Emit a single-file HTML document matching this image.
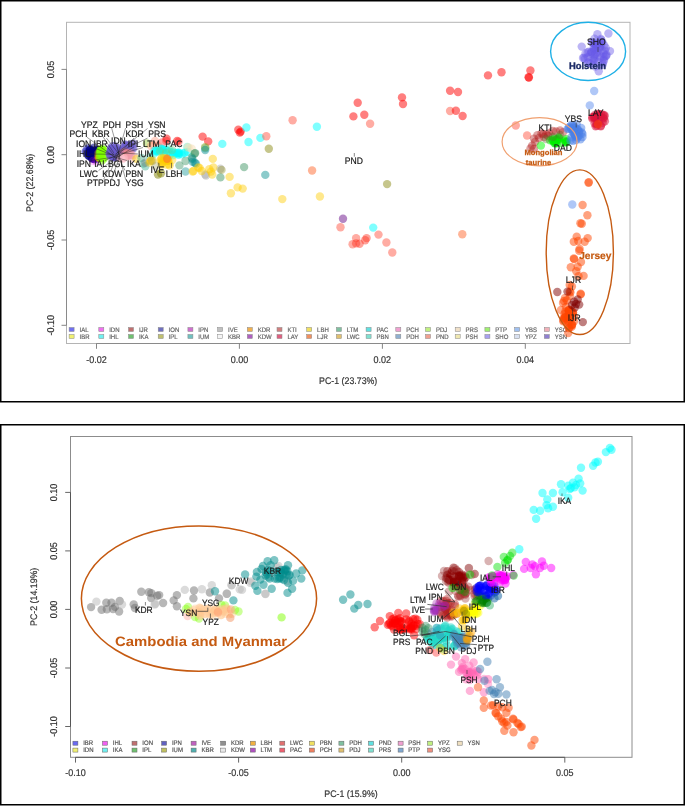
<!DOCTYPE html>
<html><head><meta charset="utf-8"><style>
html,body{margin:0;padding:0;background:#fff;}
svg{display:block;font-family:"Liberation Sans",sans-serif;text-rendering:geometricPrecision;}
.wrap{will-change:transform;width:685px;height:806px;}
</style></head><body>
<div class="wrap">
<svg width="685" height="806" viewBox="0 0 685 806">
<rect width="685" height="806" fill="#fff"/>
<rect x="0.75" y="0.75" width="683.5" height="401" fill="none" stroke="#000" stroke-width="1.5"/>
<rect x="0.75" y="424.75" width="683.5" height="380" fill="none" stroke="#000" stroke-width="1.5"/>
<rect x="66.5" y="22.3" width="563.5" height="321.2" fill="none" stroke="#b4b4b4" stroke-width="1"/>
<line x1="66.5" y1="69.4" x2="66.5" y2="325.3" stroke="#8a8a8a" stroke-width="1"/>
<line x1="96.5" y1="343.5" x2="525.3" y2="343.5" stroke="#8a8a8a" stroke-width="1"/>
<line x1="61.5" y1="69.4" x2="66.5" y2="69.4" stroke="#777" stroke-width="0.9"/>
<text x="0" y="0" font-size="9" text-anchor="middle" fill="#333" stroke="#333" stroke-width="0.18" transform="translate(54.30 69.40) rotate(-90) scale(1 1.09)">0.05</text>
<line x1="61.5" y1="154.7" x2="66.5" y2="154.7" stroke="#777" stroke-width="0.9"/>
<text x="0" y="0" font-size="9" text-anchor="middle" fill="#333" stroke="#333" stroke-width="0.18" transform="translate(54.30 154.70) rotate(-90) scale(1 1.09)">0.00</text>
<line x1="61.5" y1="240.0" x2="66.5" y2="240.0" stroke="#777" stroke-width="0.9"/>
<text x="0" y="0" font-size="9" text-anchor="middle" fill="#333" stroke="#333" stroke-width="0.18" transform="translate(54.30 240.00) rotate(-90) scale(1 1.09)">-0.05</text>
<line x1="61.5" y1="325.3" x2="66.5" y2="325.3" stroke="#777" stroke-width="0.9"/>
<text x="0" y="0" font-size="9" text-anchor="middle" fill="#333" stroke="#333" stroke-width="0.18" transform="translate(54.30 325.30) rotate(-90) scale(1 1.09)">-0.10</text>
<line x1="96.5" y1="343.5" x2="96.5" y2="348.8" stroke="#777" stroke-width="0.9"/>
<text x="0" y="0" font-size="9" text-anchor="middle" fill="#333" stroke="#333" stroke-width="0.18" transform="translate(96.50 363.20) scale(1 1.09)">-0.02</text>
<line x1="239.4" y1="343.5" x2="239.4" y2="348.8" stroke="#777" stroke-width="0.9"/>
<text x="0" y="0" font-size="9" text-anchor="middle" fill="#333" stroke="#333" stroke-width="0.18" transform="translate(239.43 363.20) scale(1 1.09)">0.00</text>
<line x1="382.4" y1="343.5" x2="382.4" y2="348.8" stroke="#777" stroke-width="0.9"/>
<text x="0" y="0" font-size="9" text-anchor="middle" fill="#333" stroke="#333" stroke-width="0.18" transform="translate(382.36 363.20) scale(1 1.09)">0.02</text>
<line x1="525.3" y1="343.5" x2="525.3" y2="348.8" stroke="#777" stroke-width="0.9"/>
<text x="0" y="0" font-size="9" text-anchor="middle" fill="#333" stroke="#333" stroke-width="0.18" transform="translate(525.29 363.20) scale(1 1.09)">0.04</text>
<text x="0" y="0" font-size="8.8" text-anchor="middle" fill="#333" stroke="#333" stroke-width="0.18" transform="translate(348.20 384.10) scale(1 1.09)">PC-1 (23.73%)</text>
<text x="0" y="0" font-size="8.8" text-anchor="middle" fill="#333" stroke="#333" stroke-width="0.18" transform="translate(33.20 182.80) rotate(-90) scale(1 1.09)">PC-2 (22.68%)</text>
<rect x="69.1" y="327.5" width="5" height="4" fill="#7070f0" stroke="#888" stroke-width="0.5"/>
<text x="0" y="0" font-size="6" text-anchor="start" fill="#666" stroke="#666" stroke-width="0.18" transform="translate(79.50 331.50) scale(1 1.09)">IAL</text>
<rect x="69.1" y="334.5" width="5" height="4" fill="#f0f070" stroke="#888" stroke-width="0.5"/>
<text x="0" y="0" font-size="6" text-anchor="start" fill="#666" stroke="#666" stroke-width="0.18" transform="translate(79.50 338.50) scale(1 1.09)">IBR</text>
<rect x="98.8" y="327.5" width="5" height="4" fill="#f070f0" stroke="#888" stroke-width="0.5"/>
<text x="0" y="0" font-size="6" text-anchor="start" fill="#666" stroke="#666" stroke-width="0.18" transform="translate(109.20 331.50) scale(1 1.09)">IDN</text>
<rect x="98.8" y="334.5" width="5" height="4" fill="#70f0f0" stroke="#888" stroke-width="0.5"/>
<text x="0" y="0" font-size="6" text-anchor="start" fill="#666" stroke="#666" stroke-width="0.18" transform="translate(109.20 338.50) scale(1 1.09)">IHL</text>
<rect x="128.5" y="327.5" width="5" height="4" fill="#c07070" stroke="#888" stroke-width="0.5"/>
<text x="0" y="0" font-size="6" text-anchor="start" fill="#666" stroke="#666" stroke-width="0.18" transform="translate(138.90 331.50) scale(1 1.09)">IJR</text>
<rect x="128.5" y="334.5" width="5" height="4" fill="#70c070" stroke="#888" stroke-width="0.5"/>
<text x="0" y="0" font-size="6" text-anchor="start" fill="#666" stroke="#666" stroke-width="0.18" transform="translate(138.90 338.50) scale(1 1.09)">IKA</text>
<rect x="158.2" y="327.5" width="5" height="4" fill="#7070c0" stroke="#888" stroke-width="0.5"/>
<text x="0" y="0" font-size="6" text-anchor="start" fill="#666" stroke="#666" stroke-width="0.18" transform="translate(168.60 331.50) scale(1 1.09)">ION</text>
<rect x="158.2" y="334.5" width="5" height="4" fill="#c0c070" stroke="#888" stroke-width="0.5"/>
<text x="0" y="0" font-size="6" text-anchor="start" fill="#666" stroke="#666" stroke-width="0.18" transform="translate(168.60 338.50) scale(1 1.09)">IPL</text>
<rect x="187.9" y="327.5" width="5" height="4" fill="#d070d0" stroke="#888" stroke-width="0.5"/>
<text x="0" y="0" font-size="6" text-anchor="start" fill="#666" stroke="#666" stroke-width="0.18" transform="translate(198.30 331.50) scale(1 1.09)">IPN</text>
<rect x="187.9" y="334.5" width="5" height="4" fill="#70c0c0" stroke="#888" stroke-width="0.5"/>
<text x="0" y="0" font-size="6" text-anchor="start" fill="#666" stroke="#666" stroke-width="0.18" transform="translate(198.30 338.50) scale(1 1.09)">IUM</text>
<rect x="217.6" y="327.5" width="5" height="4" fill="#c0c0c0" stroke="#888" stroke-width="0.5"/>
<text x="0" y="0" font-size="6" text-anchor="start" fill="#666" stroke="#666" stroke-width="0.18" transform="translate(228.00 331.50) scale(1 1.09)">IVE</text>
<rect x="217.6" y="334.5" width="5" height="4" fill="#f4f4f4" stroke="#888" stroke-width="0.5"/>
<text x="0" y="0" font-size="6" text-anchor="start" fill="#666" stroke="#666" stroke-width="0.18" transform="translate(228.00 338.50) scale(1 1.09)">KBR</text>
<rect x="247.3" y="327.5" width="5" height="4" fill="#f0b050" stroke="#888" stroke-width="0.5"/>
<text x="0" y="0" font-size="6" text-anchor="start" fill="#666" stroke="#666" stroke-width="0.18" transform="translate(257.70 331.50) scale(1 1.09)">KDR</text>
<rect x="247.3" y="334.5" width="5" height="4" fill="#b060c0" stroke="#888" stroke-width="0.5"/>
<text x="0" y="0" font-size="6" text-anchor="start" fill="#666" stroke="#666" stroke-width="0.18" transform="translate(257.70 338.50) scale(1 1.09)">KDW</text>
<rect x="277.0" y="327.5" width="5" height="4" fill="#d08080" stroke="#888" stroke-width="0.5"/>
<text x="0" y="0" font-size="6" text-anchor="start" fill="#666" stroke="#666" stroke-width="0.18" transform="translate(287.40 331.50) scale(1 1.09)">KTI</text>
<rect x="277.0" y="334.5" width="5" height="4" fill="#e06080" stroke="#888" stroke-width="0.5"/>
<text x="0" y="0" font-size="6" text-anchor="start" fill="#666" stroke="#666" stroke-width="0.18" transform="translate(287.40 338.50) scale(1 1.09)">LAY</text>
<rect x="306.7" y="327.5" width="5" height="4" fill="#f0e060" stroke="#888" stroke-width="0.5"/>
<text x="0" y="0" font-size="6" text-anchor="start" fill="#666" stroke="#666" stroke-width="0.18" transform="translate(317.10 331.50) scale(1 1.09)">LBH</text>
<rect x="306.7" y="334.5" width="5" height="4" fill="#f09060" stroke="#888" stroke-width="0.5"/>
<text x="0" y="0" font-size="6" text-anchor="start" fill="#666" stroke="#666" stroke-width="0.18" transform="translate(317.10 338.50) scale(1 1.09)">LJR</text>
<rect x="336.4" y="327.5" width="5" height="4" fill="#80c0a0" stroke="#888" stroke-width="0.5"/>
<text x="0" y="0" font-size="6" text-anchor="start" fill="#666" stroke="#666" stroke-width="0.18" transform="translate(346.80 331.50) scale(1 1.09)">LTM</text>
<rect x="336.4" y="334.5" width="5" height="4" fill="#e0c070" stroke="#888" stroke-width="0.5"/>
<text x="0" y="0" font-size="6" text-anchor="start" fill="#666" stroke="#666" stroke-width="0.18" transform="translate(346.80 338.50) scale(1 1.09)">LWC</text>
<rect x="366.1" y="327.5" width="5" height="4" fill="#60e0e0" stroke="#888" stroke-width="0.5"/>
<text x="0" y="0" font-size="6" text-anchor="start" fill="#666" stroke="#666" stroke-width="0.18" transform="translate(376.50 331.50) scale(1 1.09)">PAC</text>
<rect x="366.1" y="334.5" width="5" height="4" fill="#80e0d0" stroke="#888" stroke-width="0.5"/>
<text x="0" y="0" font-size="6" text-anchor="start" fill="#666" stroke="#666" stroke-width="0.18" transform="translate(376.50 338.50) scale(1 1.09)">PBN</text>
<rect x="395.8" y="327.5" width="5" height="4" fill="#f0a0d0" stroke="#888" stroke-width="0.5"/>
<text x="0" y="0" font-size="6" text-anchor="start" fill="#666" stroke="#666" stroke-width="0.18" transform="translate(406.20 331.50) scale(1 1.09)">PCH</text>
<rect x="395.8" y="334.5" width="5" height="4" fill="#90b0d0" stroke="#888" stroke-width="0.5"/>
<text x="0" y="0" font-size="6" text-anchor="start" fill="#666" stroke="#666" stroke-width="0.18" transform="translate(406.20 338.50) scale(1 1.09)">PDH</text>
<rect x="425.5" y="327.5" width="5" height="4" fill="#c0f080" stroke="#888" stroke-width="0.5"/>
<text x="0" y="0" font-size="6" text-anchor="start" fill="#666" stroke="#666" stroke-width="0.18" transform="translate(435.90 331.50) scale(1 1.09)">PDJ</text>
<rect x="425.5" y="334.5" width="5" height="4" fill="#f0a090" stroke="#888" stroke-width="0.5"/>
<text x="0" y="0" font-size="6" text-anchor="start" fill="#666" stroke="#666" stroke-width="0.18" transform="translate(435.90 338.50) scale(1 1.09)">PND</text>
<rect x="455.2" y="327.5" width="5" height="4" fill="#f0e0c8" stroke="#888" stroke-width="0.5"/>
<text x="0" y="0" font-size="6" text-anchor="start" fill="#666" stroke="#666" stroke-width="0.18" transform="translate(465.60 331.50) scale(1 1.09)">PRS</text>
<rect x="455.2" y="334.5" width="5" height="4" fill="#f0e8b0" stroke="#888" stroke-width="0.5"/>
<text x="0" y="0" font-size="6" text-anchor="start" fill="#666" stroke="#666" stroke-width="0.18" transform="translate(465.60 338.50) scale(1 1.09)">PSH</text>
<rect x="484.9" y="327.5" width="5" height="4" fill="#a0f070" stroke="#888" stroke-width="0.5"/>
<text x="0" y="0" font-size="6" text-anchor="start" fill="#666" stroke="#666" stroke-width="0.18" transform="translate(495.30 331.50) scale(1 1.09)">PTP</text>
<rect x="484.9" y="334.5" width="5" height="4" fill="#a8a0f0" stroke="#888" stroke-width="0.5"/>
<text x="0" y="0" font-size="6" text-anchor="start" fill="#666" stroke="#666" stroke-width="0.18" transform="translate(495.30 338.50) scale(1 1.09)">SHO</text>
<rect x="514.6" y="327.5" width="5" height="4" fill="#a0c0f0" stroke="#888" stroke-width="0.5"/>
<text x="0" y="0" font-size="6" text-anchor="start" fill="#666" stroke="#666" stroke-width="0.18" transform="translate(525.00 331.50) scale(1 1.09)">YBS</text>
<rect x="514.6" y="334.5" width="5" height="4" fill="#d8e0f0" stroke="#888" stroke-width="0.5"/>
<text x="0" y="0" font-size="6" text-anchor="start" fill="#666" stroke="#666" stroke-width="0.18" transform="translate(525.00 338.50) scale(1 1.09)">YPZ</text>
<rect x="544.3" y="327.5" width="5" height="4" fill="#f0b0b8" stroke="#888" stroke-width="0.5"/>
<text x="0" y="0" font-size="6" text-anchor="start" fill="#666" stroke="#666" stroke-width="0.18" transform="translate(554.70 331.50) scale(1 1.09)">YSG</text>
<rect x="544.3" y="334.5" width="5" height="4" fill="#9080d0" stroke="#888" stroke-width="0.5"/>
<text x="0" y="0" font-size="6" text-anchor="start" fill="#666" stroke="#666" stroke-width="0.18" transform="translate(554.70 338.50) scale(1 1.09)">YSN</text>
<circle cx="87.1" cy="148.9" r="4.2" fill="#4848c8" fill-opacity="0.5"/>
<circle cx="88.8" cy="148.2" r="4.2" fill="#4848c8" fill-opacity="0.5"/>
<circle cx="88.2" cy="150.8" r="4.2" fill="#4848c8" fill-opacity="0.5"/>
<circle cx="85.8" cy="152.1" r="4.2" fill="#4848c8" fill-opacity="0.5"/>
<circle cx="85.7" cy="151.4" r="4.2" fill="#4848c8" fill-opacity="0.5"/>
<circle cx="87.6" cy="154.9" r="4.2" fill="#4848c8" fill-opacity="0.5"/>
<circle cx="89.7" cy="149.9" r="4.2" fill="#000080" fill-opacity="0.55"/>
<circle cx="94.8" cy="159.3" r="4.2" fill="#000080" fill-opacity="0.55"/>
<circle cx="94.3" cy="152.2" r="4.2" fill="#000080" fill-opacity="0.55"/>
<circle cx="97.1" cy="150.8" r="4.2" fill="#000080" fill-opacity="0.55"/>
<circle cx="91.6" cy="157.6" r="4.2" fill="#000080" fill-opacity="0.55"/>
<circle cx="90.3" cy="154.6" r="4.2" fill="#000080" fill-opacity="0.55"/>
<circle cx="94.9" cy="151.8" r="4.2" fill="#000080" fill-opacity="0.55"/>
<circle cx="94.0" cy="147.8" r="4.2" fill="#000080" fill-opacity="0.55"/>
<circle cx="95.3" cy="152.6" r="4.2" fill="#000080" fill-opacity="0.55"/>
<circle cx="91.6" cy="154.6" r="4.2" fill="#000080" fill-opacity="0.55"/>
<circle cx="93.0" cy="150.9" r="4.2" fill="#000080" fill-opacity="0.55"/>
<circle cx="96.4" cy="156.1" r="4.2" fill="#000080" fill-opacity="0.55"/>
<circle cx="90.9" cy="154.5" r="4.2" fill="#000080" fill-opacity="0.55"/>
<circle cx="93.8" cy="158.4" r="4.2" fill="#000080" fill-opacity="0.55"/>
<circle cx="95.8" cy="150.7" r="4.2" fill="#000080" fill-opacity="0.55"/>
<circle cx="92.7" cy="156.8" r="4.2" fill="#000080" fill-opacity="0.55"/>
<circle cx="90.0" cy="153.4" r="4.2" fill="#000080" fill-opacity="0.55"/>
<circle cx="88.9" cy="155.7" r="4.2" fill="#000080" fill-opacity="0.55"/>
<circle cx="96.1" cy="154.4" r="4.2" fill="#000080" fill-opacity="0.55"/>
<circle cx="97.3" cy="151.1" r="4.2" fill="#000080" fill-opacity="0.55"/>
<circle cx="95.5" cy="154.7" r="4.2" fill="#000080" fill-opacity="0.55"/>
<circle cx="94.3" cy="152.9" r="4.2" fill="#000080" fill-opacity="0.55"/>
<circle cx="93.2" cy="155.6" r="4.2" fill="#000080" fill-opacity="0.55"/>
<circle cx="89.1" cy="156.1" r="4.2" fill="#000080" fill-opacity="0.55"/>
<circle cx="96.7" cy="150.7" r="4.2" fill="#000080" fill-opacity="0.55"/>
<circle cx="92.4" cy="155.7" r="4.2" fill="#000080" fill-opacity="0.55"/>
<circle cx="88.7" cy="153.0" r="4.2" fill="#000080" fill-opacity="0.55"/>
<circle cx="89.8" cy="150.2" r="4.2" fill="#000080" fill-opacity="0.55"/>
<circle cx="92.4" cy="158.3" r="4.2" fill="#000080" fill-opacity="0.55"/>
<circle cx="89.3" cy="152.8" r="4.2" fill="#000080" fill-opacity="0.55"/>
<circle cx="94.0" cy="158.5" r="4.2" fill="#000080" fill-opacity="0.55"/>
<circle cx="96.7" cy="158.2" r="4.2" fill="#000080" fill-opacity="0.55"/>
<circle cx="91.3" cy="152.4" r="4.2" fill="#000080" fill-opacity="0.55"/>
<circle cx="92.1" cy="158.5" r="4.2" fill="#000080" fill-opacity="0.55"/>
<circle cx="90.3" cy="150.0" r="4.2" fill="#000080" fill-opacity="0.55"/>
<circle cx="90.8" cy="153.3" r="4.2" fill="#000080" fill-opacity="0.55"/>
<circle cx="94.4" cy="150.4" r="4.2" fill="#000080" fill-opacity="0.55"/>
<circle cx="92.2" cy="154.4" r="4.2" fill="#000080" fill-opacity="0.55"/>
<circle cx="93.0" cy="161.0" r="4.2" fill="#ff00ff" fill-opacity="0.18"/>
<circle cx="96.0" cy="161.5" r="4.2" fill="#ff00ff" fill-opacity="0.18"/>
<circle cx="99.4" cy="157.3" r="4.2" fill="#ff9900" fill-opacity="0.35"/>
<circle cx="98.0" cy="156.8" r="4.2" fill="#ff9900" fill-opacity="0.35"/>
<circle cx="98.5" cy="152.9" r="4.2" fill="#ff9900" fill-opacity="0.35"/>
<circle cx="99.2" cy="158.0" r="4.2" fill="#ff9900" fill-opacity="0.35"/>
<circle cx="99.1" cy="158.1" r="4.2" fill="#ff9900" fill-opacity="0.35"/>
<circle cx="101.4" cy="153.3" r="4.2" fill="#7fff00" fill-opacity="0.5"/>
<circle cx="99.6" cy="156.1" r="4.2" fill="#7fff00" fill-opacity="0.5"/>
<circle cx="100.3" cy="150.4" r="4.2" fill="#7fff00" fill-opacity="0.5"/>
<circle cx="101.0" cy="149.1" r="4.2" fill="#7fff00" fill-opacity="0.5"/>
<circle cx="99.6" cy="152.9" r="4.2" fill="#7fff00" fill-opacity="0.5"/>
<circle cx="102.7" cy="150.3" r="4.2" fill="#7fff00" fill-opacity="0.5"/>
<circle cx="100.5" cy="152.7" r="4.2" fill="#7fff00" fill-opacity="0.5"/>
<circle cx="101.2" cy="150.0" r="4.2" fill="#7fff00" fill-opacity="0.5"/>
<circle cx="101.8" cy="154.3" r="4.2" fill="#7fff00" fill-opacity="0.5"/>
<circle cx="101.1" cy="151.7" r="4.2" fill="#7fff00" fill-opacity="0.5"/>
<circle cx="104.0" cy="150.4" r="4.2" fill="#7fff00" fill-opacity="0.5"/>
<circle cx="102.2" cy="150.3" r="4.2" fill="#7fff00" fill-opacity="0.5"/>
<circle cx="102.3" cy="148.8" r="4.2" fill="#7fff00" fill-opacity="0.5"/>
<circle cx="102.2" cy="160.2" r="4.2" fill="#7fff00" fill-opacity="0.5"/>
<circle cx="104.2" cy="156.9" r="4.2" fill="#7fff00" fill-opacity="0.5"/>
<circle cx="100.6" cy="152.9" r="4.2" fill="#7fff00" fill-opacity="0.5"/>
<circle cx="100.0" cy="157.8" r="4.2" fill="#7fff00" fill-opacity="0.5"/>
<circle cx="102.2" cy="157.8" r="4.2" fill="#7fff00" fill-opacity="0.5"/>
<circle cx="101.0" cy="151.2" r="4.2" fill="#7fff00" fill-opacity="0.5"/>
<circle cx="104.1" cy="158.2" r="4.2" fill="#7fff00" fill-opacity="0.5"/>
<circle cx="118.3" cy="154.9" r="4.2" fill="#6a5acd" fill-opacity="0.5"/>
<circle cx="111.2" cy="152.2" r="4.2" fill="#6a5acd" fill-opacity="0.5"/>
<circle cx="112.8" cy="146.3" r="4.2" fill="#6a5acd" fill-opacity="0.5"/>
<circle cx="111.6" cy="154.3" r="4.2" fill="#6a5acd" fill-opacity="0.5"/>
<circle cx="120.0" cy="151.4" r="4.2" fill="#6a5acd" fill-opacity="0.5"/>
<circle cx="120.0" cy="150.4" r="4.2" fill="#6a5acd" fill-opacity="0.5"/>
<circle cx="111.1" cy="148.7" r="4.2" fill="#6a5acd" fill-opacity="0.5"/>
<circle cx="110.9" cy="148.5" r="4.2" fill="#6a5acd" fill-opacity="0.5"/>
<circle cx="116.0" cy="156.8" r="4.2" fill="#6a5acd" fill-opacity="0.5"/>
<circle cx="118.6" cy="151.8" r="4.2" fill="#6a5acd" fill-opacity="0.5"/>
<circle cx="116.3" cy="155.6" r="4.2" fill="#6a5acd" fill-opacity="0.5"/>
<circle cx="109.5" cy="153.9" r="4.2" fill="#6a5acd" fill-opacity="0.5"/>
<circle cx="119.4" cy="155.4" r="4.2" fill="#6a5acd" fill-opacity="0.5"/>
<circle cx="117.5" cy="151.7" r="4.2" fill="#6a5acd" fill-opacity="0.5"/>
<circle cx="110.6" cy="155.5" r="4.2" fill="#6a5acd" fill-opacity="0.5"/>
<circle cx="112.5" cy="155.6" r="4.2" fill="#6a5acd" fill-opacity="0.5"/>
<circle cx="120.2" cy="150.8" r="4.2" fill="#6a5acd" fill-opacity="0.5"/>
<circle cx="113.3" cy="157.4" r="4.2" fill="#6a5acd" fill-opacity="0.5"/>
<circle cx="117.2" cy="148.0" r="4.2" fill="#6a5acd" fill-opacity="0.5"/>
<circle cx="110.3" cy="155.9" r="4.2" fill="#6a5acd" fill-opacity="0.5"/>
<circle cx="112.7" cy="152.6" r="4.2" fill="#6a5acd" fill-opacity="0.5"/>
<circle cx="120.2" cy="153.8" r="4.2" fill="#6a5acd" fill-opacity="0.5"/>
<circle cx="114.8" cy="157.2" r="4.2" fill="#6a5acd" fill-opacity="0.5"/>
<circle cx="113.7" cy="156.5" r="4.2" fill="#6a5acd" fill-opacity="0.5"/>
<circle cx="118.4" cy="148.5" r="4.2" fill="#6a5acd" fill-opacity="0.5"/>
<circle cx="111.5" cy="149.5" r="4.2" fill="#6a5acd" fill-opacity="0.5"/>
<circle cx="111.4" cy="153.0" r="4.2" fill="#6a5acd" fill-opacity="0.5"/>
<circle cx="111.6" cy="151.0" r="4.2" fill="#6a5acd" fill-opacity="0.5"/>
<circle cx="112.7" cy="151.5" r="4.2" fill="#6a5acd" fill-opacity="0.5"/>
<circle cx="115.5" cy="156.9" r="4.2" fill="#6a5acd" fill-opacity="0.5"/>
<circle cx="113.5" cy="157.0" r="4.2" fill="#6a5acd" fill-opacity="0.5"/>
<circle cx="114.5" cy="152.4" r="4.2" fill="#6a5acd" fill-opacity="0.5"/>
<circle cx="114.8" cy="146.2" r="4.2" fill="#6a5acd" fill-opacity="0.5"/>
<circle cx="113.8" cy="148.2" r="4.2" fill="#6a5acd" fill-opacity="0.5"/>
<circle cx="110.6" cy="151.7" r="4.2" fill="#6a5acd" fill-opacity="0.5"/>
<circle cx="117.2" cy="152.7" r="4.2" fill="#6a5acd" fill-opacity="0.5"/>
<circle cx="112.4" cy="152.2" r="4.2" fill="#6a5acd" fill-opacity="0.5"/>
<circle cx="115.2" cy="155.4" r="4.2" fill="#6a5acd" fill-opacity="0.5"/>
<circle cx="109.8" cy="152.7" r="4.2" fill="#6a5acd" fill-opacity="0.5"/>
<circle cx="111.5" cy="149.3" r="4.2" fill="#6a5acd" fill-opacity="0.5"/>
<circle cx="117.8" cy="152.1" r="4.2" fill="#6a5acd" fill-opacity="0.5"/>
<circle cx="115.2" cy="155.1" r="4.2" fill="#6a5acd" fill-opacity="0.5"/>
<circle cx="119.4" cy="151.3" r="4.2" fill="#6a5acd" fill-opacity="0.5"/>
<circle cx="115.9" cy="152.1" r="4.2" fill="#6a5acd" fill-opacity="0.5"/>
<circle cx="114.6" cy="154.3" r="4.2" fill="#6a5acd" fill-opacity="0.5"/>
<circle cx="113.9" cy="152.4" r="4.2" fill="#6a5acd" fill-opacity="0.5"/>
<circle cx="129.7" cy="148.6" r="4.2" fill="#6a5acd" fill-opacity="0.45"/>
<circle cx="132.4" cy="148.3" r="4.2" fill="#6a5acd" fill-opacity="0.45"/>
<circle cx="130.7" cy="148.7" r="4.2" fill="#6a5acd" fill-opacity="0.45"/>
<circle cx="134.1" cy="143.8" r="4.2" fill="#6a5acd" fill-opacity="0.45"/>
<circle cx="125.5" cy="145.7" r="4.2" fill="#6a5acd" fill-opacity="0.45"/>
<circle cx="124.9" cy="144.4" r="4.2" fill="#6a5acd" fill-opacity="0.45"/>
<circle cx="124.9" cy="147.0" r="4.2" fill="#6a5acd" fill-opacity="0.45"/>
<circle cx="133.4" cy="148.4" r="4.2" fill="#6a5acd" fill-opacity="0.45"/>
<circle cx="125.9" cy="147.3" r="4.2" fill="#6a5acd" fill-opacity="0.45"/>
<circle cx="131.9" cy="143.9" r="4.2" fill="#6a5acd" fill-opacity="0.45"/>
<circle cx="128.8" cy="145.9" r="4.2" fill="#6a5acd" fill-opacity="0.45"/>
<circle cx="125.9" cy="145.6" r="4.2" fill="#6a5acd" fill-opacity="0.45"/>
<circle cx="130.2" cy="145.0" r="4.2" fill="#6a5acd" fill-opacity="0.45"/>
<circle cx="126.3" cy="144.9" r="4.2" fill="#6a5acd" fill-opacity="0.45"/>
<circle cx="127.5" cy="153.6" r="4.2" fill="#f08080" fill-opacity="0.35"/>
<circle cx="128.2" cy="154.1" r="4.2" fill="#f08080" fill-opacity="0.35"/>
<circle cx="123.0" cy="152.6" r="4.2" fill="#f08080" fill-opacity="0.35"/>
<circle cx="124.7" cy="151.8" r="4.2" fill="#f08080" fill-opacity="0.35"/>
<circle cx="126.2" cy="156.5" r="4.2" fill="#f08080" fill-opacity="0.35"/>
<circle cx="130.2" cy="152.6" r="4.2" fill="#f08080" fill-opacity="0.35"/>
<circle cx="127.7" cy="155.2" r="4.2" fill="#f08080" fill-opacity="0.35"/>
<circle cx="128.9" cy="153.6" r="4.2" fill="#f08080" fill-opacity="0.35"/>
<circle cx="128.3" cy="155.8" r="4.2" fill="#f08080" fill-opacity="0.35"/>
<circle cx="126.5" cy="153.0" r="4.2" fill="#f08080" fill-opacity="0.35"/>
<circle cx="131.4" cy="158.6" r="4.2" fill="#f0a0b0" fill-opacity="0.35"/>
<circle cx="129.1" cy="154.6" r="4.2" fill="#f0a0b0" fill-opacity="0.35"/>
<circle cx="131.2" cy="155.2" r="4.2" fill="#f0a0b0" fill-opacity="0.35"/>
<circle cx="129.5" cy="155.5" r="4.2" fill="#f0a0b0" fill-opacity="0.35"/>
<circle cx="133.1" cy="155.4" r="4.2" fill="#f0a0b0" fill-opacity="0.35"/>
<circle cx="131.0" cy="154.9" r="4.2" fill="#f0a0b0" fill-opacity="0.35"/>
<circle cx="136.3" cy="158.9" r="4.2" fill="#ffcc00" fill-opacity="0.45"/>
<circle cx="123.4" cy="158.2" r="4.2" fill="#ffc0cb" fill-opacity="0.4"/>
<circle cx="120.1" cy="157.9" r="4.2" fill="#ffc0cb" fill-opacity="0.4"/>
<circle cx="123.9" cy="157.7" r="4.2" fill="#ffc0cb" fill-opacity="0.4"/>
<circle cx="122.0" cy="159.3" r="4.2" fill="#ffc0cb" fill-opacity="0.4"/>
<circle cx="121.4" cy="158.0" r="4.2" fill="#ffc0cb" fill-opacity="0.4"/>
<circle cx="147.0" cy="143.5" r="4.2" fill="#9acd32" fill-opacity="0.45"/>
<circle cx="153.1" cy="145.3" r="4.2" fill="#ffa070" fill-opacity="0.4"/>
<circle cx="166.3" cy="140.9" r="4.2" fill="#ff4040" fill-opacity="0.45"/>
<circle cx="178.5" cy="141.8" r="4.2" fill="#ff4040" fill-opacity="0.45"/>
<circle cx="162.0" cy="142.5" r="4.2" fill="#ff4040" fill-opacity="0.45"/>
<circle cx="155.0" cy="141.0" r="4.2" fill="#ff8060" fill-opacity="0.35"/>
<circle cx="151.0" cy="146.0" r="4.2" fill="#ff8060" fill-opacity="0.35"/>
<circle cx="158.0" cy="146.0" r="4.2" fill="#ff8060" fill-opacity="0.35"/>
<circle cx="164.0" cy="154.5" r="4.2" fill="#00ffff" fill-opacity="0.42"/>
<circle cx="177.9" cy="152.7" r="4.2" fill="#00ffff" fill-opacity="0.42"/>
<circle cx="166.4" cy="150.1" r="4.2" fill="#00ffff" fill-opacity="0.42"/>
<circle cx="153.7" cy="153.7" r="4.2" fill="#00ffff" fill-opacity="0.42"/>
<circle cx="160.7" cy="148.5" r="4.2" fill="#00ffff" fill-opacity="0.42"/>
<circle cx="184.1" cy="153.0" r="4.2" fill="#00ffff" fill-opacity="0.42"/>
<circle cx="161.7" cy="149.2" r="4.2" fill="#00ffff" fill-opacity="0.42"/>
<circle cx="162.1" cy="151.1" r="4.2" fill="#00ffff" fill-opacity="0.42"/>
<circle cx="157.0" cy="151.0" r="4.2" fill="#00ffff" fill-opacity="0.42"/>
<circle cx="188.0" cy="151.9" r="4.2" fill="#00ffff" fill-opacity="0.42"/>
<circle cx="162.8" cy="150.2" r="4.2" fill="#00ffff" fill-opacity="0.42"/>
<circle cx="169.0" cy="151.5" r="4.2" fill="#00ffff" fill-opacity="0.42"/>
<circle cx="158.6" cy="151.5" r="4.2" fill="#00ffff" fill-opacity="0.42"/>
<circle cx="154.4" cy="150.6" r="4.2" fill="#00ffff" fill-opacity="0.42"/>
<circle cx="162.6" cy="149.1" r="4.2" fill="#00ffff" fill-opacity="0.42"/>
<circle cx="173.3" cy="151.8" r="4.2" fill="#00ffff" fill-opacity="0.42"/>
<circle cx="179.5" cy="152.9" r="4.2" fill="#00ffff" fill-opacity="0.42"/>
<circle cx="178.2" cy="154.9" r="4.2" fill="#00ffff" fill-opacity="0.42"/>
<circle cx="165.8" cy="149.9" r="4.2" fill="#00ffff" fill-opacity="0.42"/>
<circle cx="178.5" cy="152.8" r="4.2" fill="#00ffff" fill-opacity="0.42"/>
<circle cx="184.9" cy="152.6" r="4.2" fill="#00ffff" fill-opacity="0.42"/>
<circle cx="178.9" cy="154.3" r="4.2" fill="#00ffff" fill-opacity="0.42"/>
<circle cx="156.3" cy="151.7" r="4.2" fill="#00ffff" fill-opacity="0.42"/>
<circle cx="170.2" cy="154.5" r="4.2" fill="#00ffff" fill-opacity="0.42"/>
<circle cx="181.6" cy="154.4" r="4.2" fill="#00ffff" fill-opacity="0.42"/>
<circle cx="173.2" cy="155.0" r="4.2" fill="#00ffff" fill-opacity="0.42"/>
<circle cx="177.0" cy="153.2" r="4.2" fill="#00ffff" fill-opacity="0.42"/>
<circle cx="156.1" cy="150.2" r="4.2" fill="#00ffff" fill-opacity="0.42"/>
<circle cx="172.2" cy="152.6" r="4.2" fill="#00ffff" fill-opacity="0.42"/>
<circle cx="174.8" cy="153.1" r="4.2" fill="#00ffff" fill-opacity="0.42"/>
<circle cx="160.0" cy="151.0" r="4.2" fill="#90c060" fill-opacity="0.3"/>
<circle cx="166.0" cy="153.0" r="4.2" fill="#90c060" fill-opacity="0.3"/>
<circle cx="172.0" cy="150.0" r="4.2" fill="#90c060" fill-opacity="0.3"/>
<circle cx="168.9" cy="148.8" r="4.2" fill="#40e0b0" fill-opacity="0.35"/>
<circle cx="187.3" cy="147.0" r="4.2" fill="#40e0b0" fill-opacity="0.35"/>
<circle cx="191.7" cy="148.8" r="4.2" fill="#f5deb3" fill-opacity="0.5"/>
<circle cx="188.5" cy="147.5" r="4.2" fill="#f5deb3" fill-opacity="0.5"/>
<circle cx="143.5" cy="163.6" r="4.2" fill="#40b090" fill-opacity="0.45"/>
<circle cx="145.3" cy="166.3" r="4.2" fill="#40b090" fill-opacity="0.45"/>
<circle cx="141.5" cy="158.0" r="4.2" fill="#40b090" fill-opacity="0.45"/>
<circle cx="150.0" cy="157.0" r="4.2" fill="#40b090" fill-opacity="0.45"/>
<circle cx="145.3" cy="162.8" r="4.2" fill="#808080" fill-opacity="0.4"/>
<circle cx="161.7" cy="158.0" r="4.2" fill="#ffcc00" fill-opacity="0.4"/>
<circle cx="169.7" cy="165.5" r="4.2" fill="#ffcc00" fill-opacity="0.4"/>
<circle cx="162.1" cy="163.4" r="4.2" fill="#ffcc00" fill-opacity="0.4"/>
<circle cx="166.1" cy="158.7" r="4.2" fill="#ffcc00" fill-opacity="0.4"/>
<circle cx="168.2" cy="160.5" r="4.2" fill="#ffcc00" fill-opacity="0.4"/>
<circle cx="150.9" cy="160.7" r="4.2" fill="#ffcc00" fill-opacity="0.4"/>
<circle cx="168.0" cy="160.1" r="4.2" fill="#ffcc00" fill-opacity="0.4"/>
<circle cx="161.8" cy="161.8" r="4.2" fill="#ffcc00" fill-opacity="0.4"/>
<circle cx="161.5" cy="164.8" r="4.2" fill="#ffcc00" fill-opacity="0.4"/>
<circle cx="168.9" cy="164.2" r="4.2" fill="#ffcc00" fill-opacity="0.4"/>
<circle cx="165.7" cy="158.8" r="4.2" fill="#ffcc00" fill-opacity="0.4"/>
<circle cx="152.8" cy="160.5" r="4.2" fill="#ffcc00" fill-opacity="0.4"/>
<circle cx="168.3" cy="161.0" r="4.2" fill="#ffcc00" fill-opacity="0.4"/>
<circle cx="163.8" cy="158.1" r="4.2" fill="#ffcc00" fill-opacity="0.4"/>
<circle cx="150.6" cy="160.7" r="4.2" fill="#ffcc00" fill-opacity="0.4"/>
<circle cx="166.5" cy="164.9" r="4.2" fill="#ffcc00" fill-opacity="0.4"/>
<circle cx="166.6" cy="160.9" r="4.2" fill="#ffcc00" fill-opacity="0.4"/>
<circle cx="162.4" cy="162.6" r="4.2" fill="#ffcc00" fill-opacity="0.4"/>
<circle cx="161.1" cy="159.2" r="4.2" fill="#ffcc00" fill-opacity="0.4"/>
<circle cx="172.2" cy="160.0" r="4.2" fill="#ffcc00" fill-opacity="0.4"/>
<circle cx="149.5" cy="162.6" r="4.2" fill="#ffcc00" fill-opacity="0.4"/>
<circle cx="160.7" cy="160.7" r="4.2" fill="#ffcc00" fill-opacity="0.4"/>
<circle cx="152.0" cy="161.0" r="4.2" fill="#a0a060" fill-opacity="0.35"/>
<circle cx="156.0" cy="166.0" r="4.2" fill="#a0a060" fill-opacity="0.35"/>
<circle cx="167.2" cy="158.8" r="4.2" fill="#ff6a30" fill-opacity="0.55"/>
<circle cx="161.0" cy="173.3" r="4.2" fill="#808000" fill-opacity="0.5"/>
<circle cx="158.0" cy="174.5" r="4.2" fill="#808000" fill-opacity="0.5"/>
<circle cx="195.2" cy="153.1" r="4.2" fill="#2e8b57" fill-opacity="0.4"/>
<circle cx="191.7" cy="157.5" r="4.2" fill="#2e8b57" fill-opacity="0.4"/>
<circle cx="179.4" cy="165.4" r="4.2" fill="#2e8b57" fill-opacity="0.4"/>
<circle cx="185.5" cy="161.0" r="4.2" fill="#2e8b57" fill-opacity="0.4"/>
<circle cx="192.6" cy="161.9" r="4.2" fill="#008b8b" fill-opacity="0.4"/>
<circle cx="196.0" cy="163.6" r="4.2" fill="#008b8b" fill-opacity="0.4"/>
<circle cx="185.5" cy="171.5" r="4.2" fill="#008b8b" fill-opacity="0.4"/>
<circle cx="192.6" cy="171.5" r="4.2" fill="#ffcc00" fill-opacity="0.45"/>
<circle cx="199.6" cy="168.0" r="4.2" fill="#ffcc00" fill-opacity="0.45"/>
<circle cx="205.2" cy="174.5" r="4.2" fill="#a9a9a9" fill-opacity="0.45"/>
<circle cx="220.4" cy="168.7" r="4.2" fill="#a9a9a9" fill-opacity="0.45"/>
<circle cx="206.0" cy="175.5" r="4.2" fill="#a9a9a9" fill-opacity="0.45"/>
<circle cx="221.5" cy="169.9" r="4.2" fill="#808000" fill-opacity="0.35"/>
<line x1="113.8" y1="152.9" x2="97.5" y2="128.5" stroke="#222" stroke-width="0.45"/>
<line x1="119.4" y1="156.4" x2="111.6" y2="128.0" stroke="#222" stroke-width="0.45"/>
<line x1="117.8" y1="155.0" x2="125.6" y2="128.0" stroke="#222" stroke-width="0.45"/>
<line x1="116.2" y1="153.6" x2="147.5" y2="128.5" stroke="#222" stroke-width="0.45"/>
<line x1="114.6" y1="157.1" x2="86.9" y2="137.2" stroke="#222" stroke-width="0.45"/>
<line x1="120.2" y1="155.7" x2="106.4" y2="138.0" stroke="#222" stroke-width="0.45"/>
<line x1="118.6" y1="154.3" x2="134.0" y2="138.0" stroke="#222" stroke-width="0.45"/>
<line x1="117.0" y1="152.9" x2="147.5" y2="138.1" stroke="#222" stroke-width="0.45"/>
<line x1="115.4" y1="156.4" x2="92.0" y2="147.0" stroke="#222" stroke-width="0.45"/>
<line x1="113.8" y1="155.0" x2="107.3" y2="147.0" stroke="#222" stroke-width="0.45"/>
<line x1="119.4" y1="153.6" x2="116.5" y2="144.5" stroke="#222" stroke-width="0.45"/>
<line x1="117.8" y1="157.1" x2="133.9" y2="147.0" stroke="#222" stroke-width="0.45"/>
<line x1="116.2" y1="155.7" x2="143.0" y2="147.5" stroke="#222" stroke-width="0.45"/>
<line x1="114.6" y1="154.3" x2="89.0" y2="154.0" stroke="#222" stroke-width="0.45"/>
<line x1="120.2" y1="152.9" x2="138.0" y2="154.0" stroke="#222" stroke-width="0.45"/>
<line x1="118.6" y1="156.4" x2="91.3" y2="160.5" stroke="#222" stroke-width="0.45"/>
<line x1="117.0" y1="155.0" x2="105.0" y2="160.5" stroke="#222" stroke-width="0.45"/>
<line x1="115.4" y1="153.6" x2="117.0" y2="160.5" stroke="#222" stroke-width="0.45"/>
<line x1="113.8" y1="157.1" x2="127.0" y2="160.5" stroke="#222" stroke-width="0.45"/>
<line x1="119.4" y1="155.7" x2="98.6" y2="170.5" stroke="#222" stroke-width="0.45"/>
<line x1="117.8" y1="154.3" x2="111.0" y2="170.4" stroke="#222" stroke-width="0.45"/>
<line x1="116.2" y1="152.9" x2="125.0" y2="170.4" stroke="#222" stroke-width="0.45"/>
<line x1="114.6" y1="156.4" x2="103.7" y2="179.3" stroke="#222" stroke-width="0.45"/>
<line x1="120.2" y1="155.0" x2="111.6" y2="179.3" stroke="#222" stroke-width="0.45"/>
<line x1="118.6" y1="153.6" x2="125.6" y2="179.3" stroke="#222" stroke-width="0.45"/>
<circle cx="166.6" cy="138.8" r="4.2" fill="#ff0000" fill-opacity="0.5"/>
<circle cx="177.2" cy="141.0" r="4.2" fill="#ff0000" fill-opacity="0.5"/>
<circle cx="202.6" cy="136.6" r="4.2" fill="#ff0000" fill-opacity="0.5"/>
<circle cx="208.2" cy="141.4" r="4.2" fill="#ff0000" fill-opacity="0.5"/>
<circle cx="238.3" cy="129.7" r="4.2" fill="#ff0000" fill-opacity="0.5"/>
<circle cx="239.8" cy="132.6" r="4.2" fill="#ff0000" fill-opacity="0.5"/>
<circle cx="240.7" cy="131.6" r="4.2" fill="#ff0000" fill-opacity="0.5"/>
<circle cx="222.3" cy="143.9" r="4.2" fill="#00ffff" fill-opacity="0.5"/>
<circle cx="246.4" cy="127.5" r="4.2" fill="#00ffff" fill-opacity="0.5"/>
<circle cx="248.5" cy="142.0" r="4.2" fill="#00ffff" fill-opacity="0.5"/>
<circle cx="260.4" cy="137.9" r="4.2" fill="#00ffff" fill-opacity="0.5"/>
<circle cx="316.9" cy="126.8" r="4.2" fill="#00ffff" fill-opacity="0.5"/>
<circle cx="194.7" cy="153.5" r="4.2" fill="#2e8b57" fill-opacity="0.45"/>
<circle cx="220.4" cy="177.4" r="4.2" fill="#2e8b57" fill-opacity="0.45"/>
<circle cx="244.1" cy="167.1" r="4.2" fill="#2e8b57" fill-opacity="0.45"/>
<circle cx="205.2" cy="148.3" r="4.2" fill="#008b8b" fill-opacity="0.3"/>
<circle cx="205.2" cy="147.3" r="4.2" fill="#9acd32" fill-opacity="0.35"/>
<circle cx="205.2" cy="147.3" r="4.2" fill="#808000" fill-opacity="0.2"/>
<circle cx="192.3" cy="158.8" r="4.2" fill="#008b8b" fill-opacity="0.45"/>
<circle cx="194.7" cy="162.8" r="4.2" fill="#008b8b" fill-opacity="0.45"/>
<circle cx="265.3" cy="174.9" r="4.2" fill="#008b8b" fill-opacity="0.45"/>
<circle cx="205.2" cy="150.0" r="4.2" fill="#008b8b" fill-opacity="0.45"/>
<circle cx="212.8" cy="158.9" r="4.2" fill="#ffcc00" fill-opacity="0.45"/>
<circle cx="198.2" cy="167.5" r="4.2" fill="#ffcc00" fill-opacity="0.45"/>
<circle cx="193.5" cy="171.0" r="4.2" fill="#ffcc00" fill-opacity="0.45"/>
<circle cx="201.7" cy="171.0" r="4.2" fill="#ffcc00" fill-opacity="0.45"/>
<circle cx="209.3" cy="169.3" r="4.2" fill="#ffcc00" fill-opacity="0.45"/>
<circle cx="213.4" cy="167.5" r="4.2" fill="#ffcc00" fill-opacity="0.45"/>
<circle cx="212.2" cy="174.5" r="4.2" fill="#ffcc00" fill-opacity="0.45"/>
<circle cx="211.0" cy="171.6" r="4.2" fill="#ffcc00" fill-opacity="0.45"/>
<circle cx="229.6" cy="176.9" r="4.2" fill="#ffcc00" fill-opacity="0.45"/>
<circle cx="237.6" cy="187.4" r="4.2" fill="#ffcc00" fill-opacity="0.45"/>
<circle cx="242.7" cy="188.6" r="4.2" fill="#ffcc00" fill-opacity="0.45"/>
<circle cx="230.9" cy="193.2" r="4.2" fill="#ffcc00" fill-opacity="0.45"/>
<circle cx="282.3" cy="199.1" r="4.2" fill="#ffcc00" fill-opacity="0.45"/>
<circle cx="319.9" cy="196.5" r="4.2" fill="#ffcc00" fill-opacity="0.45"/>
<circle cx="268.8" cy="148.7" r="4.2" fill="#808000" fill-opacity="0.45"/>
<circle cx="387.1" cy="184.1" r="4.2" fill="#808000" fill-opacity="0.45"/>
<circle cx="292.6" cy="120.2" r="4.2" fill="#ff5a48" fill-opacity="0.5"/>
<circle cx="266.3" cy="136.3" r="4.2" fill="#ff5a48" fill-opacity="0.5"/>
<circle cx="370.1" cy="123.7" r="4.2" fill="#ff5a48" fill-opacity="0.5"/>
<circle cx="450.1" cy="111.0" r="4.2" fill="#ff5a48" fill-opacity="0.5"/>
<circle cx="515.8" cy="125.5" r="4.2" fill="#ff5a48" fill-opacity="0.5"/>
<circle cx="527.1" cy="135.5" r="4.2" fill="#ff5a48" fill-opacity="0.5"/>
<circle cx="340.5" cy="227.2" r="4.2" fill="#ff5a48" fill-opacity="0.5"/>
<circle cx="378.5" cy="234.6" r="4.2" fill="#ff5a48" fill-opacity="0.5"/>
<circle cx="356.1" cy="238.1" r="4.2" fill="#ff5a48" fill-opacity="0.5"/>
<circle cx="352.6" cy="244.2" r="4.2" fill="#ff5a48" fill-opacity="0.5"/>
<circle cx="386.4" cy="242.5" r="4.2" fill="#ff5a48" fill-opacity="0.5"/>
<circle cx="392.3" cy="252.5" r="4.2" fill="#ff5a48" fill-opacity="0.5"/>
<circle cx="312.1" cy="170.5" r="4.2" fill="#ff6a30" fill-opacity="0.5"/>
<circle cx="462.3" cy="234.2" r="4.2" fill="#ff6a30" fill-opacity="0.5"/>
<circle cx="343.0" cy="218.7" r="4.2" fill="#6a0f8a" fill-opacity="0.5"/>
<circle cx="373.2" cy="227.6" r="4.2" fill="#00ffff" fill-opacity="0.5"/>
<circle cx="366.6" cy="238.1" r="4.2" fill="#ff3020" fill-opacity="0.45"/>
<circle cx="365.2" cy="240.2" r="4.2" fill="#ff3020" fill-opacity="0.45"/>
<circle cx="359.6" cy="243.7" r="4.2" fill="#ff3020" fill-opacity="0.45"/>
<circle cx="356.1" cy="243.4" r="4.2" fill="#ff3020" fill-opacity="0.45"/>
<circle cx="357.7" cy="102.8" r="4.2" fill="#ff0000" fill-opacity="0.5"/>
<circle cx="353.4" cy="116.4" r="4.2" fill="#ff0000" fill-opacity="0.5"/>
<circle cx="364.3" cy="114.7" r="4.2" fill="#ff0000" fill-opacity="0.5"/>
<circle cx="402.0" cy="97.4" r="4.2" fill="#ff0000" fill-opacity="0.5"/>
<circle cx="403.0" cy="104.0" r="4.2" fill="#ff0000" fill-opacity="0.5"/>
<circle cx="488.0" cy="75.4" r="4.2" fill="#ff0000" fill-opacity="0.5"/>
<circle cx="501.5" cy="72.2" r="4.2" fill="#ff0000" fill-opacity="0.5"/>
<circle cx="530.4" cy="70.5" r="4.2" fill="#ff0000" fill-opacity="0.5"/>
<circle cx="528.6" cy="77.2" r="4.2" fill="#ff0000" fill-opacity="0.5"/>
<circle cx="528.9" cy="77.6" r="4.2" fill="#ff0000" fill-opacity="0.5"/>
<circle cx="450.1" cy="90.8" r="4.2" fill="#ff0000" fill-opacity="0.5"/>
<circle cx="458.0" cy="92.0" r="4.2" fill="#ff0000" fill-opacity="0.5"/>
<circle cx="455.9" cy="110.8" r="4.2" fill="#ff0000" fill-opacity="0.5"/>
<circle cx="462.6" cy="116.0" r="4.2" fill="#ff0000" fill-opacity="0.5"/>
<circle cx="532.1" cy="145.6" r="4.2" fill="#b22222" fill-opacity="0.42"/>
<circle cx="533.9" cy="138.6" r="4.2" fill="#b22222" fill-opacity="0.42"/>
<circle cx="537.4" cy="135.1" r="4.2" fill="#b22222" fill-opacity="0.42"/>
<circle cx="541.5" cy="133.4" r="4.2" fill="#b22222" fill-opacity="0.42"/>
<circle cx="546.1" cy="134.5" r="4.2" fill="#b22222" fill-opacity="0.42"/>
<circle cx="549.0" cy="133.4" r="4.2" fill="#b22222" fill-opacity="0.42"/>
<circle cx="552.6" cy="131.0" r="4.2" fill="#b22222" fill-opacity="0.42"/>
<circle cx="560.1" cy="130.4" r="4.2" fill="#b22222" fill-opacity="0.42"/>
<circle cx="563.0" cy="132.2" r="4.2" fill="#b22222" fill-opacity="0.42"/>
<circle cx="535.0" cy="142.0" r="4.2" fill="#b22222" fill-opacity="0.42"/>
<circle cx="539.0" cy="138.0" r="4.2" fill="#b22222" fill-opacity="0.42"/>
<circle cx="544.0" cy="137.0" r="4.2" fill="#b22222" fill-opacity="0.42"/>
<circle cx="530.5" cy="148.5" r="4.2" fill="#b22222" fill-opacity="0.42"/>
<circle cx="534.0" cy="149.0" r="4.2" fill="#b22222" fill-opacity="0.42"/>
<circle cx="543.0" cy="134.0" r="4.2" fill="#b22222" fill-opacity="0.42"/>
<circle cx="556.0" cy="131.5" r="4.2" fill="#b22222" fill-opacity="0.42"/>
<circle cx="548.0" cy="136.0" r="4.2" fill="#b22222" fill-opacity="0.42"/>
<circle cx="553.8" cy="141.0" r="4.2" fill="#00ee00" fill-opacity="0.5"/>
<circle cx="552.6" cy="140.7" r="4.2" fill="#00ee00" fill-opacity="0.5"/>
<circle cx="564.8" cy="140.6" r="4.2" fill="#00ee00" fill-opacity="0.5"/>
<circle cx="566.0" cy="141.8" r="4.2" fill="#00ee00" fill-opacity="0.5"/>
<circle cx="554.2" cy="143.0" r="4.2" fill="#00ee00" fill-opacity="0.5"/>
<circle cx="558.8" cy="137.5" r="4.2" fill="#00ee00" fill-opacity="0.5"/>
<circle cx="550.1" cy="140.4" r="4.2" fill="#00ee00" fill-opacity="0.5"/>
<circle cx="558.1" cy="139.2" r="4.2" fill="#00ee00" fill-opacity="0.5"/>
<circle cx="552.5" cy="139.5" r="4.2" fill="#00ee00" fill-opacity="0.5"/>
<circle cx="555.7" cy="142.7" r="4.2" fill="#00ee00" fill-opacity="0.5"/>
<circle cx="566.7" cy="141.9" r="4.2" fill="#00ee00" fill-opacity="0.5"/>
<circle cx="566.2" cy="139.2" r="4.2" fill="#00ee00" fill-opacity="0.5"/>
<circle cx="556.7" cy="139.8" r="4.2" fill="#00ee00" fill-opacity="0.5"/>
<circle cx="556.5" cy="140.0" r="4.2" fill="#00ee00" fill-opacity="0.5"/>
<circle cx="555.1" cy="143.3" r="4.2" fill="#00ee00" fill-opacity="0.5"/>
<circle cx="554.5" cy="139.0" r="4.2" fill="#00ee00" fill-opacity="0.5"/>
<circle cx="559.2" cy="138.5" r="4.2" fill="#00ee00" fill-opacity="0.5"/>
<circle cx="556.7" cy="143.4" r="4.2" fill="#00ee00" fill-opacity="0.5"/>
<circle cx="565.9" cy="142.5" r="4.2" fill="#00ee00" fill-opacity="0.5"/>
<circle cx="561.4" cy="143.1" r="4.2" fill="#00ee00" fill-opacity="0.5"/>
<circle cx="540.9" cy="145.6" r="4.2" fill="#00ff00" fill-opacity="0.5"/>
<circle cx="546.0" cy="139.0" r="4.2" fill="#556b2f" fill-opacity="0.35"/>
<circle cx="553.0" cy="137.0" r="4.2" fill="#556b2f" fill-opacity="0.35"/>
<circle cx="560.0" cy="135.0" r="4.2" fill="#556b2f" fill-opacity="0.35"/>
<circle cx="582.5" cy="133.9" r="4.2" fill="#4a7fe8" fill-opacity="0.5"/>
<circle cx="578.9" cy="132.1" r="4.2" fill="#4a7fe8" fill-opacity="0.5"/>
<circle cx="579.3" cy="135.6" r="4.2" fill="#4a7fe8" fill-opacity="0.5"/>
<circle cx="571.4" cy="124.9" r="4.2" fill="#4a7fe8" fill-opacity="0.5"/>
<circle cx="574.5" cy="130.2" r="4.2" fill="#4a7fe8" fill-opacity="0.5"/>
<circle cx="571.6" cy="137.3" r="4.2" fill="#4a7fe8" fill-opacity="0.5"/>
<circle cx="577.7" cy="129.4" r="4.2" fill="#4a7fe8" fill-opacity="0.5"/>
<circle cx="576.0" cy="131.1" r="4.2" fill="#4a7fe8" fill-opacity="0.5"/>
<circle cx="569.3" cy="126.9" r="4.2" fill="#4a7fe8" fill-opacity="0.5"/>
<circle cx="575.0" cy="128.0" r="4.2" fill="#4a7fe8" fill-opacity="0.5"/>
<circle cx="574.1" cy="126.5" r="4.2" fill="#4a7fe8" fill-opacity="0.5"/>
<circle cx="572.3" cy="125.6" r="4.2" fill="#4a7fe8" fill-opacity="0.5"/>
<circle cx="570.6" cy="128.7" r="4.2" fill="#4a7fe8" fill-opacity="0.5"/>
<circle cx="576.2" cy="140.0" r="4.2" fill="#4a7fe8" fill-opacity="0.5"/>
<circle cx="579.2" cy="131.4" r="4.2" fill="#4a7fe8" fill-opacity="0.5"/>
<circle cx="573.5" cy="133.4" r="4.2" fill="#4a7fe8" fill-opacity="0.5"/>
<circle cx="572.9" cy="130.1" r="4.2" fill="#4a7fe8" fill-opacity="0.5"/>
<circle cx="567.6" cy="129.0" r="4.2" fill="#4a7fe8" fill-opacity="0.5"/>
<circle cx="575.1" cy="135.3" r="4.2" fill="#4a7fe8" fill-opacity="0.5"/>
<circle cx="581.2" cy="127.9" r="4.2" fill="#4a7fe8" fill-opacity="0.5"/>
<circle cx="571.1" cy="128.5" r="4.2" fill="#4a7fe8" fill-opacity="0.5"/>
<circle cx="573.3" cy="132.0" r="4.2" fill="#4a7fe8" fill-opacity="0.5"/>
<circle cx="581.7" cy="132.5" r="4.2" fill="#4a7fe8" fill-opacity="0.5"/>
<circle cx="573.2" cy="140.7" r="4.2" fill="#4a7fe8" fill-opacity="0.5"/>
<circle cx="580.5" cy="139.4" r="4.2" fill="#4a7fe8" fill-opacity="0.5"/>
<circle cx="575.4" cy="136.3" r="4.2" fill="#4a7fe8" fill-opacity="0.5"/>
<circle cx="582.5" cy="137.0" r="4.2" fill="#4a7fe8" fill-opacity="0.5"/>
<circle cx="577.5" cy="137.8" r="4.2" fill="#4a7fe8" fill-opacity="0.5"/>
<circle cx="574.3" cy="133.9" r="4.2" fill="#4a7fe8" fill-opacity="0.5"/>
<circle cx="570.5" cy="140.6" r="4.2" fill="#4a7fe8" fill-opacity="0.5"/>
<circle cx="577.5" cy="129.5" r="4.2" fill="#4a7fe8" fill-opacity="0.5"/>
<circle cx="568.7" cy="128.5" r="4.2" fill="#4a7fe8" fill-opacity="0.5"/>
<circle cx="577.3" cy="136.6" r="4.2" fill="#4a7fe8" fill-opacity="0.5"/>
<circle cx="575.4" cy="134.5" r="4.2" fill="#4a7fe8" fill-opacity="0.5"/>
<circle cx="573.1" cy="128.0" r="4.2" fill="#4a7fe8" fill-opacity="0.5"/>
<circle cx="576.7" cy="124.2" r="4.2" fill="#4a7fe8" fill-opacity="0.5"/>
<circle cx="594.2" cy="91.0" r="4.2" fill="#5f8fef" fill-opacity="0.5"/>
<circle cx="589.8" cy="105.4" r="4.2" fill="#5f8fef" fill-opacity="0.5"/>
<circle cx="572.3" cy="204.5" r="4.2" fill="#5f8fef" fill-opacity="0.5"/>
<circle cx="595.7" cy="118.4" r="4.2" fill="#dc143c" fill-opacity="0.5"/>
<circle cx="604.9" cy="121.3" r="4.2" fill="#dc143c" fill-opacity="0.5"/>
<circle cx="603.9" cy="118.6" r="4.2" fill="#dc143c" fill-opacity="0.5"/>
<circle cx="594.8" cy="115.0" r="4.2" fill="#dc143c" fill-opacity="0.5"/>
<circle cx="598.5" cy="121.8" r="4.2" fill="#dc143c" fill-opacity="0.5"/>
<circle cx="597.4" cy="115.1" r="4.2" fill="#dc143c" fill-opacity="0.5"/>
<circle cx="600.8" cy="125.8" r="4.2" fill="#dc143c" fill-opacity="0.5"/>
<circle cx="596.2" cy="117.7" r="4.2" fill="#dc143c" fill-opacity="0.5"/>
<circle cx="601.1" cy="114.2" r="4.2" fill="#dc143c" fill-opacity="0.5"/>
<circle cx="602.7" cy="122.8" r="4.2" fill="#dc143c" fill-opacity="0.5"/>
<circle cx="598.6" cy="114.3" r="4.2" fill="#dc143c" fill-opacity="0.5"/>
<circle cx="603.0" cy="114.7" r="4.2" fill="#dc143c" fill-opacity="0.5"/>
<circle cx="594.6" cy="123.2" r="4.2" fill="#dc143c" fill-opacity="0.5"/>
<circle cx="595.6" cy="126.2" r="4.2" fill="#dc143c" fill-opacity="0.5"/>
<circle cx="598.4" cy="114.0" r="4.2" fill="#dc143c" fill-opacity="0.5"/>
<circle cx="594.6" cy="117.7" r="4.2" fill="#dc143c" fill-opacity="0.5"/>
<circle cx="600.8" cy="126.2" r="4.2" fill="#dc143c" fill-opacity="0.5"/>
<circle cx="593.5" cy="117.3" r="4.2" fill="#dc143c" fill-opacity="0.5"/>
<circle cx="592.3" cy="117.3" r="4.2" fill="#dc143c" fill-opacity="0.5"/>
<circle cx="604.5" cy="116.3" r="4.2" fill="#dc143c" fill-opacity="0.5"/>
<circle cx="600.8" cy="117.1" r="4.2" fill="#dc143c" fill-opacity="0.5"/>
<circle cx="596.7" cy="116.3" r="4.2" fill="#dc143c" fill-opacity="0.5"/>
<circle cx="595.4" cy="116.6" r="4.2" fill="#dc143c" fill-opacity="0.5"/>
<circle cx="596.5" cy="124.1" r="4.2" fill="#dc143c" fill-opacity="0.5"/>
<circle cx="603.0" cy="117.9" r="4.2" fill="#dc143c" fill-opacity="0.5"/>
<circle cx="592.2" cy="118.6" r="4.2" fill="#dc143c" fill-opacity="0.5"/>
<circle cx="596.7" cy="125.7" r="4.2" fill="#dc143c" fill-opacity="0.5"/>
<circle cx="594.2" cy="116.8" r="4.2" fill="#dc143c" fill-opacity="0.5"/>
<circle cx="597.3" cy="124.0" r="4.2" fill="#dc143c" fill-opacity="0.5"/>
<circle cx="604.4" cy="115.1" r="4.2" fill="#dc143c" fill-opacity="0.5"/>
<circle cx="598.1" cy="124.2" r="4.2" fill="#ff4500" fill-opacity="0.5"/>
<circle cx="602.7" cy="64.8" r="4.2" fill="#6a5ae8" fill-opacity="0.42"/>
<circle cx="595.8" cy="44.7" r="4.2" fill="#6a5ae8" fill-opacity="0.42"/>
<circle cx="606.3" cy="55.7" r="4.2" fill="#6a5ae8" fill-opacity="0.42"/>
<circle cx="594.5" cy="58.9" r="4.2" fill="#6a5ae8" fill-opacity="0.42"/>
<circle cx="595.4" cy="44.8" r="4.2" fill="#6a5ae8" fill-opacity="0.42"/>
<circle cx="605.6" cy="56.3" r="4.2" fill="#6a5ae8" fill-opacity="0.42"/>
<circle cx="594.0" cy="51.2" r="4.2" fill="#6a5ae8" fill-opacity="0.42"/>
<circle cx="596.6" cy="44.0" r="4.2" fill="#6a5ae8" fill-opacity="0.42"/>
<circle cx="597.3" cy="51.8" r="4.2" fill="#6a5ae8" fill-opacity="0.42"/>
<circle cx="603.6" cy="59.6" r="4.2" fill="#6a5ae8" fill-opacity="0.42"/>
<circle cx="604.0" cy="60.7" r="4.2" fill="#6a5ae8" fill-opacity="0.42"/>
<circle cx="600.3" cy="46.5" r="4.2" fill="#6a5ae8" fill-opacity="0.42"/>
<circle cx="595.4" cy="47.6" r="4.2" fill="#6a5ae8" fill-opacity="0.42"/>
<circle cx="593.4" cy="60.1" r="4.2" fill="#6a5ae8" fill-opacity="0.42"/>
<circle cx="590.6" cy="53.7" r="4.2" fill="#6a5ae8" fill-opacity="0.42"/>
<circle cx="594.5" cy="38.7" r="4.2" fill="#6a5ae8" fill-opacity="0.42"/>
<circle cx="591.6" cy="52.0" r="4.2" fill="#6a5ae8" fill-opacity="0.42"/>
<circle cx="602.1" cy="50.3" r="4.2" fill="#6a5ae8" fill-opacity="0.42"/>
<circle cx="594.0" cy="49.3" r="4.2" fill="#6a5ae8" fill-opacity="0.42"/>
<circle cx="600.5" cy="57.6" r="4.2" fill="#6a5ae8" fill-opacity="0.42"/>
<circle cx="602.7" cy="63.1" r="4.2" fill="#6a5ae8" fill-opacity="0.42"/>
<circle cx="601.3" cy="39.9" r="4.2" fill="#6a5ae8" fill-opacity="0.42"/>
<circle cx="604.3" cy="45.4" r="4.2" fill="#6a5ae8" fill-opacity="0.42"/>
<circle cx="599.6" cy="47.9" r="4.2" fill="#6a5ae8" fill-opacity="0.42"/>
<circle cx="602.5" cy="42.4" r="4.2" fill="#6a5ae8" fill-opacity="0.42"/>
<circle cx="594.2" cy="43.9" r="4.2" fill="#6a5ae8" fill-opacity="0.42"/>
<circle cx="599.8" cy="46.4" r="4.2" fill="#6a5ae8" fill-opacity="0.42"/>
<circle cx="598.6" cy="43.4" r="4.2" fill="#6a5ae8" fill-opacity="0.42"/>
<circle cx="603.7" cy="56.9" r="4.2" fill="#6a5ae8" fill-opacity="0.42"/>
<circle cx="598.1" cy="62.2" r="4.2" fill="#6a5ae8" fill-opacity="0.42"/>
<circle cx="592.0" cy="42.1" r="4.2" fill="#6a5ae8" fill-opacity="0.42"/>
<circle cx="606.5" cy="54.7" r="4.2" fill="#6a5ae8" fill-opacity="0.42"/>
<circle cx="605.8" cy="47.9" r="4.2" fill="#6a5ae8" fill-opacity="0.42"/>
<circle cx="604.7" cy="50.4" r="4.2" fill="#6a5ae8" fill-opacity="0.42"/>
<circle cx="594.4" cy="60.9" r="4.2" fill="#6a5ae8" fill-opacity="0.42"/>
<circle cx="600.1" cy="55.8" r="4.2" fill="#6a5ae8" fill-opacity="0.42"/>
<circle cx="593.7" cy="47.8" r="4.2" fill="#6a5ae8" fill-opacity="0.42"/>
<circle cx="592.4" cy="42.5" r="4.2" fill="#6a5ae8" fill-opacity="0.42"/>
<circle cx="594.3" cy="55.2" r="4.2" fill="#6a5ae8" fill-opacity="0.42"/>
<circle cx="601.1" cy="42.5" r="4.2" fill="#6a5ae8" fill-opacity="0.42"/>
<circle cx="601.5" cy="41.9" r="4.2" fill="#6a5ae8" fill-opacity="0.42"/>
<circle cx="595.3" cy="42.5" r="4.2" fill="#6a5ae8" fill-opacity="0.42"/>
<circle cx="603.5" cy="53.5" r="4.2" fill="#6a5ae8" fill-opacity="0.42"/>
<circle cx="596.7" cy="53.6" r="4.2" fill="#6a5ae8" fill-opacity="0.42"/>
<circle cx="600.9" cy="38.9" r="4.2" fill="#6a5ae8" fill-opacity="0.42"/>
<circle cx="592.8" cy="58.3" r="4.2" fill="#6a5ae8" fill-opacity="0.42"/>
<circle cx="597.0" cy="45.1" r="4.2" fill="#6a5ae8" fill-opacity="0.42"/>
<circle cx="595.2" cy="66.5" r="4.2" fill="#6a5ae8" fill-opacity="0.42"/>
<circle cx="595.3" cy="54.1" r="4.2" fill="#6a5ae8" fill-opacity="0.42"/>
<circle cx="596.1" cy="49.3" r="4.2" fill="#6a5ae8" fill-opacity="0.42"/>
<circle cx="587.6" cy="52.2" r="4.2" fill="#6a5ae8" fill-opacity="0.4"/>
<circle cx="591.3" cy="52.3" r="4.2" fill="#6a5ae8" fill-opacity="0.4"/>
<circle cx="588.2" cy="62.1" r="4.2" fill="#6a5ae8" fill-opacity="0.4"/>
<circle cx="588.1" cy="63.1" r="4.2" fill="#6a5ae8" fill-opacity="0.4"/>
<circle cx="588.6" cy="51.6" r="4.2" fill="#6a5ae8" fill-opacity="0.4"/>
<circle cx="584.1" cy="57.8" r="4.2" fill="#6a5ae8" fill-opacity="0.4"/>
<circle cx="590.4" cy="63.6" r="4.2" fill="#6a5ae8" fill-opacity="0.4"/>
<circle cx="584.9" cy="59.0" r="4.2" fill="#6a5ae8" fill-opacity="0.4"/>
<circle cx="587.7" cy="57.1" r="4.2" fill="#6a5ae8" fill-opacity="0.4"/>
<circle cx="585.5" cy="53.5" r="4.2" fill="#6a5ae8" fill-opacity="0.4"/>
<circle cx="581.7" cy="46.6" r="4.2" fill="#6a5ae8" fill-opacity="0.45"/>
<circle cx="608.4" cy="33.5" r="4.2" fill="#6a5ae8" fill-opacity="0.45"/>
<circle cx="610.0" cy="51.1" r="4.2" fill="#6a5ae8" fill-opacity="0.45"/>
<circle cx="583.0" cy="58.0" r="4.2" fill="#6a5ae8" fill-opacity="0.45"/>
<circle cx="598.7" cy="71.2" r="4.2" fill="#6a5ae8" fill-opacity="0.45"/>
<circle cx="597.4" cy="34.3" r="4.2" fill="#6a5ae8" fill-opacity="0.45"/>
<circle cx="588.8" cy="182.2" r="4.2" fill="#ff4500" fill-opacity="0.5"/>
<circle cx="582.6" cy="205.0" r="4.2" fill="#ff4500" fill-opacity="0.5"/>
<circle cx="587.4" cy="215.2" r="4.2" fill="#ff4500" fill-opacity="0.5"/>
<circle cx="580.4" cy="223.2" r="4.2" fill="#ff4500" fill-opacity="0.5"/>
<circle cx="581.8" cy="223.8" r="4.2" fill="#ff4500" fill-opacity="0.5"/>
<circle cx="576.7" cy="236.6" r="4.2" fill="#ff4500" fill-opacity="0.5"/>
<circle cx="587.7" cy="238.1" r="4.2" fill="#ff4500" fill-opacity="0.5"/>
<circle cx="578.2" cy="241.0" r="4.2" fill="#ff4500" fill-opacity="0.5"/>
<circle cx="584.7" cy="241.8" r="4.2" fill="#ff4500" fill-opacity="0.5"/>
<circle cx="573.8" cy="241.8" r="4.2" fill="#ff4500" fill-opacity="0.5"/>
<circle cx="579.6" cy="249.0" r="4.2" fill="#ff4500" fill-opacity="0.5"/>
<circle cx="573.8" cy="258.5" r="4.2" fill="#ff4500" fill-opacity="0.5"/>
<circle cx="579.2" cy="250.7" r="4.2" fill="#ff4500" fill-opacity="0.5"/>
<circle cx="574.1" cy="259.1" r="4.2" fill="#ff4500" fill-opacity="0.5"/>
<circle cx="581.0" cy="262.0" r="4.2" fill="#ff4500" fill-opacity="0.5"/>
<circle cx="570.8" cy="267.2" r="4.2" fill="#ff4500" fill-opacity="0.5"/>
<circle cx="577.7" cy="266.8" r="4.2" fill="#ff4500" fill-opacity="0.5"/>
<circle cx="576.3" cy="271.2" r="4.2" fill="#ff4500" fill-opacity="0.5"/>
<circle cx="583.6" cy="275.9" r="4.2" fill="#ff4500" fill-opacity="0.5"/>
<circle cx="578.5" cy="276.3" r="4.2" fill="#ff4500" fill-opacity="0.5"/>
<circle cx="569.7" cy="285.0" r="4.2" fill="#ff4500" fill-opacity="0.5"/>
<circle cx="571.9" cy="286.5" r="4.2" fill="#ff4500" fill-opacity="0.5"/>
<circle cx="569.7" cy="291.6" r="4.2" fill="#ff4500" fill-opacity="0.5"/>
<circle cx="580.7" cy="293.8" r="4.2" fill="#ff4500" fill-opacity="0.5"/>
<circle cx="570.4" cy="292.2" r="4.2" fill="#ff4500" fill-opacity="0.5"/>
<circle cx="580.7" cy="294.4" r="4.2" fill="#ff4500" fill-opacity="0.5"/>
<circle cx="563.9" cy="301.0" r="4.2" fill="#ff4500" fill-opacity="0.5"/>
<circle cx="566.8" cy="300.2" r="4.2" fill="#ff4500" fill-opacity="0.5"/>
<circle cx="568.2" cy="333.0" r="4.2" fill="#ff4500" fill-opacity="0.5"/>
<circle cx="569.3" cy="327.5" r="4.2" fill="#ff4500" fill-opacity="0.5"/>
<circle cx="564.3" cy="318.8" r="4.2" fill="#ff4500" fill-opacity="0.5"/>
<circle cx="565.4" cy="311.5" r="4.2" fill="#ff4500" fill-opacity="0.5"/>
<circle cx="568.8" cy="310.1" r="4.2" fill="#ff4500" fill-opacity="0.5"/>
<circle cx="574.1" cy="316.8" r="4.2" fill="#ff4500" fill-opacity="0.5"/>
<circle cx="573.9" cy="321.4" r="4.2" fill="#ff4500" fill-opacity="0.5"/>
<circle cx="572.9" cy="312.2" r="4.2" fill="#ff4500" fill-opacity="0.5"/>
<circle cx="572.4" cy="313.4" r="4.2" fill="#ff4500" fill-opacity="0.5"/>
<circle cx="567.9" cy="325.9" r="4.2" fill="#ff4500" fill-opacity="0.5"/>
<circle cx="573.0" cy="312.7" r="4.2" fill="#ff4500" fill-opacity="0.5"/>
<circle cx="565.6" cy="317.0" r="4.2" fill="#ff4500" fill-opacity="0.5"/>
<circle cx="569.2" cy="316.7" r="4.2" fill="#ff4500" fill-opacity="0.5"/>
<circle cx="564.5" cy="313.9" r="4.2" fill="#ff4500" fill-opacity="0.5"/>
<circle cx="571.7" cy="326.9" r="4.2" fill="#ff4500" fill-opacity="0.5"/>
<circle cx="563.5" cy="320.2" r="4.2" fill="#ff4500" fill-opacity="0.5"/>
<circle cx="570.2" cy="320.0" r="4.2" fill="#ff4500" fill-opacity="0.5"/>
<circle cx="570.5" cy="315.1" r="4.2" fill="#ff4500" fill-opacity="0.5"/>
<circle cx="568.0" cy="320.7" r="4.2" fill="#ff4500" fill-opacity="0.5"/>
<circle cx="568.1" cy="322.2" r="4.2" fill="#ff4500" fill-opacity="0.5"/>
<circle cx="568.4" cy="317.8" r="4.2" fill="#ff4500" fill-opacity="0.5"/>
<circle cx="563.3" cy="321.4" r="4.2" fill="#ff4500" fill-opacity="0.5"/>
<circle cx="568.9" cy="313.7" r="4.2" fill="#ff4500" fill-opacity="0.5"/>
<circle cx="572.2" cy="324.6" r="4.2" fill="#ff4500" fill-opacity="0.5"/>
<circle cx="568.5" cy="312.6" r="4.2" fill="#ff4500" fill-opacity="0.5"/>
<circle cx="568.7" cy="311.1" r="4.2" fill="#ff4500" fill-opacity="0.5"/>
<circle cx="564.5" cy="317.6" r="4.2" fill="#ff4500" fill-opacity="0.5"/>
<circle cx="564.1" cy="317.8" r="4.2" fill="#ff4500" fill-opacity="0.5"/>
<circle cx="569.1" cy="309.8" r="4.2" fill="#ff4500" fill-opacity="0.5"/>
<circle cx="570.6" cy="310.6" r="4.2" fill="#ff4500" fill-opacity="0.5"/>
<circle cx="571.8" cy="324.6" r="4.2" fill="#ff4500" fill-opacity="0.5"/>
<circle cx="569.1" cy="310.1" r="4.2" fill="#ff4500" fill-opacity="0.5"/>
<circle cx="569.0" cy="316.6" r="4.2" fill="#ff4500" fill-opacity="0.5"/>
<circle cx="571.8" cy="325.3" r="4.2" fill="#ff4500" fill-opacity="0.5"/>
<circle cx="568.9" cy="328.1" r="4.2" fill="#ff4500" fill-opacity="0.5"/>
<circle cx="563.0" cy="303.0" r="4.2" fill="#ff4500" fill-opacity="0.45"/>
<circle cx="566.0" cy="307.0" r="4.2" fill="#ff4500" fill-opacity="0.45"/>
<circle cx="561.0" cy="310.0" r="4.2" fill="#ff4500" fill-opacity="0.45"/>
<circle cx="565.0" cy="298.0" r="4.2" fill="#ff4500" fill-opacity="0.45"/>
<circle cx="588.5" cy="182.8" r="4.2" fill="#ff4500" fill-opacity="0.45"/>
<circle cx="570.0" cy="296.0" r="4.2" fill="#ff4500" fill-opacity="0.45"/>
<circle cx="574.1" cy="301.7" r="4.2" fill="#800000" fill-opacity="0.5"/>
<circle cx="579.2" cy="304.6" r="4.2" fill="#800000" fill-opacity="0.5"/>
<circle cx="574.8" cy="307.5" r="4.2" fill="#800000" fill-opacity="0.5"/>
<circle cx="577.7" cy="299.5" r="4.2" fill="#800000" fill-opacity="0.5"/>
<circle cx="576.0" cy="304.0" r="4.2" fill="#800000" fill-opacity="0.5"/>
<circle cx="572.0" cy="305.0" r="4.2" fill="#800000" fill-opacity="0.5"/>
<circle cx="557.3" cy="292.0" r="4.2" fill="#800000" fill-opacity="0.5"/>
<circle cx="567.5" cy="291.6" r="4.2" fill="#800000" fill-opacity="0.5"/>
<circle cx="582.8" cy="322.1" r="4.2" fill="#800000" fill-opacity="0.5"/>
<text x="0" y="0" font-size="8.6" text-anchor="start" fill="#1a1a1a" stroke="#1a1a1a" stroke-width="0.18" transform="translate(81.00 128.00) scale(1 1.09)">YPZ</text>
<text x="0" y="0" font-size="8.6" text-anchor="start" fill="#1a1a1a" stroke="#1a1a1a" stroke-width="0.18" transform="translate(102.70 128.00) scale(1 1.09)">PDH</text>
<text x="0" y="0" font-size="8.6" text-anchor="start" fill="#1a1a1a" stroke="#1a1a1a" stroke-width="0.18" transform="translate(125.60 128.00) scale(1 1.09)">PSH</text>
<text x="0" y="0" font-size="8.6" text-anchor="start" fill="#1a1a1a" stroke="#1a1a1a" stroke-width="0.18" transform="translate(147.90 128.00) scale(1 1.09)">YSN</text>
<text x="0" y="0" font-size="8.6" text-anchor="start" fill="#1a1a1a" stroke="#1a1a1a" stroke-width="0.18" transform="translate(69.40 137.40) scale(1 1.09)">PCH</text>
<text x="0" y="0" font-size="8.6" text-anchor="start" fill="#1a1a1a" stroke="#1a1a1a" stroke-width="0.18" transform="translate(92.00 137.40) scale(1 1.09)">KBR</text>
<text x="0" y="0" font-size="8.6" text-anchor="start" fill="#1a1a1a" stroke="#1a1a1a" stroke-width="0.18" transform="translate(125.60 137.40) scale(1 1.09)">KDR</text>
<text x="0" y="0" font-size="8.6" text-anchor="start" fill="#1a1a1a" stroke="#1a1a1a" stroke-width="0.18" transform="translate(148.20 137.40) scale(1 1.09)">PRS</text>
<text x="0" y="0" font-size="8.6" text-anchor="start" fill="#1a1a1a" stroke="#1a1a1a" stroke-width="0.18" transform="translate(76.00 147.30) scale(1 1.09)">ION</text>
<text x="0" y="0" font-size="8.6" text-anchor="start" fill="#1a1a1a" stroke="#1a1a1a" stroke-width="0.18" transform="translate(93.50 147.30) scale(1 1.09)">IBR</text>
<text x="0" y="0" font-size="8.6" text-anchor="start" fill="#1a1a1a" stroke="#1a1a1a" stroke-width="0.18" transform="translate(111.00 144.40) scale(1 1.09)">IDN</text>
<text x="0" y="0" font-size="8.6" text-anchor="start" fill="#1a1a1a" stroke="#1a1a1a" stroke-width="0.18" transform="translate(127.80 147.30) scale(1 1.09)">IPL</text>
<text x="0" y="0" font-size="8.6" text-anchor="start" fill="#1a1a1a" stroke="#1a1a1a" stroke-width="0.18" transform="translate(143.00 147.30) scale(1 1.09)">LTM</text>
<text x="0" y="0" font-size="8.6" text-anchor="start" fill="#1a1a1a" stroke="#1a1a1a" stroke-width="0.18" transform="translate(76.70 157.20) scale(1 1.09)">IHL</text>
<text x="0" y="0" font-size="8.6" text-anchor="start" fill="#1a1a1a" stroke="#1a1a1a" stroke-width="0.18" transform="translate(138.00 157.20) scale(1 1.09)">IUM</text>
<text x="0" y="0" font-size="8.6" text-anchor="start" fill="#1a1a1a" stroke="#1a1a1a" stroke-width="0.18" transform="translate(76.70 166.60) scale(1 1.09)">IPN</text>
<text x="0" y="0" font-size="8.6" text-anchor="start" fill="#1a1a1a" stroke="#1a1a1a" stroke-width="0.18" transform="translate(94.20 166.60) scale(1 1.09)">IAL</text>
<text x="0" y="0" font-size="8.6" text-anchor="start" fill="#1a1a1a" stroke="#1a1a1a" stroke-width="0.18" transform="translate(108.00 166.60) scale(1 1.09)">BGL</text>
<text x="0" y="0" font-size="8.6" text-anchor="start" fill="#1a1a1a" stroke="#1a1a1a" stroke-width="0.18" transform="translate(127.00 166.60) scale(1 1.09)">IKA</text>
<text x="0" y="0" font-size="8.6" text-anchor="start" fill="#1a1a1a" stroke="#1a1a1a" stroke-width="0.18" transform="translate(79.60 176.50) scale(1 1.09)">LWC</text>
<text x="0" y="0" font-size="8.6" text-anchor="start" fill="#1a1a1a" stroke="#1a1a1a" stroke-width="0.18" transform="translate(102.20 176.50) scale(1 1.09)">KDW</text>
<text x="0" y="0" font-size="8.6" text-anchor="start" fill="#1a1a1a" stroke="#1a1a1a" stroke-width="0.18" transform="translate(125.60 176.50) scale(1 1.09)">PBN</text>
<text x="0" y="0" font-size="8.6" text-anchor="start" fill="#1a1a1a" stroke="#1a1a1a" stroke-width="0.18" transform="translate(86.90 185.50) scale(1 1.09)">PTP</text>
<text x="0" y="0" font-size="8.6" text-anchor="start" fill="#1a1a1a" stroke="#1a1a1a" stroke-width="0.18" transform="translate(103.70 185.50) scale(1 1.09)">PDJ</text>
<text x="0" y="0" font-size="8.6" text-anchor="start" fill="#1a1a1a" stroke="#1a1a1a" stroke-width="0.18" transform="translate(125.60 185.50) scale(1 1.09)">YSG</text>
<line x1="158.8" y1="162.8" x2="158.8" y2="166.3" stroke="#333" stroke-width="0.6"/>
<line x1="171.5" y1="162.8" x2="171.5" y2="168.0" stroke="#333" stroke-width="0.6"/>
<text x="0" y="0" font-size="8.6" text-anchor="start" fill="#1a1a1a" stroke="#1a1a1a" stroke-width="0.18" transform="translate(150.40 173.00) scale(1 1.09)">IVE</text>
<text x="0" y="0" font-size="8.6" text-anchor="start" fill="#1a1a1a" stroke="#1a1a1a" stroke-width="0.18" transform="translate(165.80 176.50) scale(1 1.09)">LBH</text>
<text x="0" y="0" font-size="8.6" text-anchor="start" fill="#1a1a1a" stroke="#1a1a1a" stroke-width="0.18" transform="translate(165.30 147.10) scale(1 1.09)">PAC</text>
<text x="0" y="0" font-size="8.6" text-anchor="start" fill="#1a1a1a" stroke="#1a1a1a" stroke-width="0.18" transform="translate(344.70 163.60) scale(1 1.09)">PND</text>
<line x1="354.3" y1="153.0" x2="354.3" y2="156.6" stroke="#333" stroke-width="0.6"/>
<text x="0" y="0" font-size="8.6" text-anchor="start" fill="#1a1a1a" stroke="#1a1a1a" stroke-width="0.18" transform="translate(538.50 131.20) scale(1 1.09)">KTI</text>
<text x="0" y="0" font-size="8.6" text-anchor="start" fill="#1a1a1a" stroke="#1a1a1a" stroke-width="0.18" transform="translate(553.70 150.70) scale(1 1.09)">DAD</text>
<text x="0" y="0" font-size="8.6" text-anchor="start" fill="#1a1a1a" stroke="#1a1a1a" stroke-width="0.18" transform="translate(564.80 121.90) scale(1 1.09)">YBS</text>
<line x1="576.2" y1="122.5" x2="576.2" y2="127.5" stroke="#333" stroke-width="0.6"/>
<line x1="598.0" y1="115.5" x2="598.0" y2="119.0" stroke="#333" stroke-width="0.6"/>
<text x="0" y="0" font-size="8.6" text-anchor="start" fill="#1a1a1a" stroke="#1a1a1a" stroke-width="0.18" transform="translate(587.90 115.50) scale(1 1.09)">LAY</text>
<text x="0" y="0" font-size="8.6" text-anchor="start" fill="#1a1a1a" stroke="#1a1a1a" stroke-width="0.18" transform="translate(587.00 44.60) scale(1 1.09)">SHO</text>
<line x1="598.0" y1="47.0" x2="598.0" y2="52.0" stroke="#333" stroke-width="0.6"/>
<text x="0" y="0" font-size="8.6" text-anchor="start" fill="#1a1a1a" stroke="#1a1a1a" stroke-width="0.18" transform="translate(565.80 283.00) scale(1 1.09)">LJR</text>
<line x1="572.5" y1="285.5" x2="572.5" y2="290.0" stroke="#333" stroke-width="0.6"/>
<text x="0" y="0" font-size="8.6" text-anchor="start" fill="#1a1a1a" stroke="#1a1a1a" stroke-width="0.18" transform="translate(567.70 321.00) scale(1 1.09)">IJR</text>
<line x1="572.5" y1="309.0" x2="572.5" y2="319.0" stroke="#333" stroke-width="0.6"/>
<ellipse cx="588.1" cy="51.4" rx="37.5" ry="29.1" fill="none" stroke="#1fb0e6" stroke-width="1.4"/>
<text x="587.5" y="68.5" font-size="9.4" text-anchor="middle" fill="#1c2b66" stroke="#1c2b66" stroke-width="0.35" font-weight="bold">Holstein</text>
<ellipse cx="539.6" cy="141.7" rx="37.5" ry="24.1" fill="none" stroke="#f0a070" stroke-width="1.2"/>
<text x="543.5" y="154.8" font-size="7.6" text-anchor="middle" fill="#c55a11" stroke="#c55a11" stroke-width="0.25" font-weight="bold">Mongolian</text>
<text x="538.5" y="164.8" font-size="7.6" text-anchor="middle" fill="#c55a11" stroke="#c55a11" stroke-width="0.25" font-weight="bold">taurine</text>
<ellipse cx="579.8" cy="252.2" rx="33.6" ry="82.3" fill="none" stroke="#c55a11" stroke-width="1.4"/>
<text x="595.3" y="259.1" font-size="10.2" text-anchor="middle" fill="#c55a11" stroke="#c55a11" stroke-width="0.2" font-weight="bold">Jersey</text>
<rect x="70.5" y="436.5" width="561.5" height="320.8" fill="none" stroke="#8c8c8c" stroke-width="1"/>
<line x1="70.5" y1="492.4" x2="70.5" y2="726.5" stroke="#555" stroke-width="1"/>
<line x1="75.5" y1="757.3" x2="564.8" y2="757.3" stroke="#555" stroke-width="1"/>
<line x1="65.2" y1="492.4" x2="70.5" y2="492.4" stroke="#555" stroke-width="0.9"/>
<text x="0" y="0" font-size="9" text-anchor="middle" fill="#333" stroke="#333" stroke-width="0.18" transform="translate(57.20 492.40) rotate(-90) scale(1 1.09)">0.10</text>
<line x1="65.2" y1="550.9" x2="70.5" y2="550.9" stroke="#555" stroke-width="0.9"/>
<text x="0" y="0" font-size="9" text-anchor="middle" fill="#333" stroke="#333" stroke-width="0.18" transform="translate(57.20 550.92) rotate(-90) scale(1 1.09)">0.05</text>
<line x1="65.2" y1="609.4" x2="70.5" y2="609.4" stroke="#555" stroke-width="0.9"/>
<text x="0" y="0" font-size="9" text-anchor="middle" fill="#333" stroke="#333" stroke-width="0.18" transform="translate(57.20 609.44) rotate(-90) scale(1 1.09)">0.00</text>
<line x1="65.2" y1="668.0" x2="70.5" y2="668.0" stroke="#555" stroke-width="0.9"/>
<text x="0" y="0" font-size="9" text-anchor="middle" fill="#333" stroke="#333" stroke-width="0.18" transform="translate(57.20 667.96) rotate(-90) scale(1 1.09)">-0.05</text>
<line x1="65.2" y1="726.5" x2="70.5" y2="726.5" stroke="#555" stroke-width="0.9"/>
<text x="0" y="0" font-size="9" text-anchor="middle" fill="#333" stroke="#333" stroke-width="0.18" transform="translate(57.20 726.48) rotate(-90) scale(1 1.09)">-0.10</text>
<line x1="75.5" y1="757.3" x2="75.5" y2="762.6" stroke="#555" stroke-width="0.9"/>
<text x="0" y="0" font-size="9" text-anchor="middle" fill="#333" stroke="#333" stroke-width="0.18" transform="translate(75.50 776.40) scale(1 1.09)">-0.10</text>
<line x1="238.6" y1="757.3" x2="238.6" y2="762.6" stroke="#555" stroke-width="0.9"/>
<text x="0" y="0" font-size="9" text-anchor="middle" fill="#333" stroke="#333" stroke-width="0.18" transform="translate(238.60 776.40) scale(1 1.09)">-0.05</text>
<line x1="401.7" y1="757.3" x2="401.7" y2="762.6" stroke="#555" stroke-width="0.9"/>
<text x="0" y="0" font-size="9" text-anchor="middle" fill="#333" stroke="#333" stroke-width="0.18" transform="translate(401.70 776.40) scale(1 1.09)">0.00</text>
<line x1="564.8" y1="757.3" x2="564.8" y2="762.6" stroke="#555" stroke-width="0.9"/>
<text x="0" y="0" font-size="9" text-anchor="middle" fill="#333" stroke="#333" stroke-width="0.18" transform="translate(564.80 776.40) scale(1 1.09)">0.05</text>
<text x="0" y="0" font-size="8.8" text-anchor="middle" fill="#333" stroke="#333" stroke-width="0.18" transform="translate(351.00 797.20) scale(1 1.09)">PC-1 (15.9%)</text>
<text x="0" y="0" font-size="8.8" text-anchor="middle" fill="#333" stroke="#333" stroke-width="0.18" transform="translate(37.30 596.80) rotate(-90) scale(1 1.09)">PC-2 (14.19%)</text>
<rect x="72.9" y="741.2" width="5" height="4" fill="#6a6af0" stroke="#666" stroke-width="0.5"/>
<text x="0" y="0" font-size="6" text-anchor="start" fill="#555" stroke="#555" stroke-width="0.18" transform="translate(83.20 745.20) scale(1 1.09)">IBR</text>
<rect x="72.9" y="748.1" width="5" height="4" fill="#f0f070" stroke="#666" stroke-width="0.5"/>
<text x="0" y="0" font-size="6" text-anchor="start" fill="#555" stroke="#555" stroke-width="0.18" transform="translate(83.20 752.10) scale(1 1.09)">IDN</text>
<rect x="102.5" y="741.2" width="5" height="4" fill="#f060f0" stroke="#666" stroke-width="0.5"/>
<text x="0" y="0" font-size="6" text-anchor="start" fill="#555" stroke="#555" stroke-width="0.18" transform="translate(112.76 745.20) scale(1 1.09)">IHL</text>
<rect x="102.5" y="748.1" width="5" height="4" fill="#70f0f0" stroke="#666" stroke-width="0.5"/>
<text x="0" y="0" font-size="6" text-anchor="start" fill="#555" stroke="#555" stroke-width="0.18" transform="translate(112.76 752.10) scale(1 1.09)">IKA</text>
<rect x="132.0" y="741.2" width="5" height="4" fill="#c07070" stroke="#666" stroke-width="0.5"/>
<text x="0" y="0" font-size="6" text-anchor="start" fill="#555" stroke="#555" stroke-width="0.18" transform="translate(142.32 745.20) scale(1 1.09)">ION</text>
<rect x="132.0" y="748.1" width="5" height="4" fill="#70c070" stroke="#666" stroke-width="0.5"/>
<text x="0" y="0" font-size="6" text-anchor="start" fill="#555" stroke="#555" stroke-width="0.18" transform="translate(142.32 752.10) scale(1 1.09)">IPL</text>
<rect x="161.6" y="741.2" width="5" height="4" fill="#6060c0" stroke="#666" stroke-width="0.5"/>
<text x="0" y="0" font-size="6" text-anchor="start" fill="#555" stroke="#555" stroke-width="0.18" transform="translate(171.88 745.20) scale(1 1.09)">IPN</text>
<rect x="161.6" y="748.1" width="5" height="4" fill="#c0c060" stroke="#666" stroke-width="0.5"/>
<text x="0" y="0" font-size="6" text-anchor="start" fill="#555" stroke="#555" stroke-width="0.18" transform="translate(171.88 752.10) scale(1 1.09)">IUM</text>
<rect x="191.1" y="741.2" width="5" height="4" fill="#c060c0" stroke="#666" stroke-width="0.5"/>
<text x="0" y="0" font-size="6" text-anchor="start" fill="#555" stroke="#555" stroke-width="0.18" transform="translate(201.44 745.20) scale(1 1.09)">IVE</text>
<rect x="191.1" y="748.1" width="5" height="4" fill="#50b0b0" stroke="#666" stroke-width="0.5"/>
<text x="0" y="0" font-size="6" text-anchor="start" fill="#555" stroke="#555" stroke-width="0.18" transform="translate(201.44 752.10) scale(1 1.09)">KBR</text>
<rect x="220.7" y="741.2" width="5" height="4" fill="#909090" stroke="#666" stroke-width="0.5"/>
<text x="0" y="0" font-size="6" text-anchor="start" fill="#555" stroke="#555" stroke-width="0.18" transform="translate(231.00 745.20) scale(1 1.09)">KDR</text>
<rect x="220.7" y="748.1" width="5" height="4" fill="#e8e8e8" stroke="#666" stroke-width="0.5"/>
<text x="0" y="0" font-size="6" text-anchor="start" fill="#555" stroke="#555" stroke-width="0.18" transform="translate(231.00 752.10) scale(1 1.09)">KDW</text>
<rect x="250.3" y="741.2" width="5" height="4" fill="#f0b040" stroke="#666" stroke-width="0.5"/>
<text x="0" y="0" font-size="6" text-anchor="start" fill="#555" stroke="#555" stroke-width="0.18" transform="translate(260.56 745.20) scale(1 1.09)">LBH</text>
<rect x="250.3" y="748.1" width="5" height="4" fill="#b050c0" stroke="#666" stroke-width="0.5"/>
<text x="0" y="0" font-size="6" text-anchor="start" fill="#555" stroke="#555" stroke-width="0.18" transform="translate(260.56 752.10) scale(1 1.09)">LTM</text>
<rect x="279.8" y="741.2" width="5" height="4" fill="#e07070" stroke="#666" stroke-width="0.5"/>
<text x="0" y="0" font-size="6" text-anchor="start" fill="#555" stroke="#555" stroke-width="0.18" transform="translate(290.12 745.20) scale(1 1.09)">LWC</text>
<rect x="279.8" y="748.1" width="5" height="4" fill="#f06070" stroke="#666" stroke-width="0.5"/>
<text x="0" y="0" font-size="6" text-anchor="start" fill="#555" stroke="#555" stroke-width="0.18" transform="translate(290.12 752.10) scale(1 1.09)">PAC</text>
<rect x="309.4" y="741.2" width="5" height="4" fill="#f0e060" stroke="#666" stroke-width="0.5"/>
<text x="0" y="0" font-size="6" text-anchor="start" fill="#555" stroke="#555" stroke-width="0.18" transform="translate(319.68 745.20) scale(1 1.09)">PBN</text>
<rect x="309.4" y="748.1" width="5" height="4" fill="#f08060" stroke="#666" stroke-width="0.5"/>
<text x="0" y="0" font-size="6" text-anchor="start" fill="#555" stroke="#555" stroke-width="0.18" transform="translate(319.68 752.10) scale(1 1.09)">PCH</text>
<rect x="338.9" y="741.2" width="5" height="4" fill="#80c0a0" stroke="#666" stroke-width="0.5"/>
<text x="0" y="0" font-size="6" text-anchor="start" fill="#555" stroke="#555" stroke-width="0.18" transform="translate(349.24 745.20) scale(1 1.09)">PDH</text>
<rect x="338.9" y="748.1" width="5" height="4" fill="#e0c070" stroke="#666" stroke-width="0.5"/>
<text x="0" y="0" font-size="6" text-anchor="start" fill="#555" stroke="#555" stroke-width="0.18" transform="translate(349.24 752.10) scale(1 1.09)">PDJ</text>
<rect x="368.5" y="741.2" width="5" height="4" fill="#60e0e0" stroke="#666" stroke-width="0.5"/>
<text x="0" y="0" font-size="6" text-anchor="start" fill="#555" stroke="#555" stroke-width="0.18" transform="translate(378.80 745.20) scale(1 1.09)">PND</text>
<rect x="368.5" y="748.1" width="5" height="4" fill="#80e0d0" stroke="#666" stroke-width="0.5"/>
<text x="0" y="0" font-size="6" text-anchor="start" fill="#555" stroke="#555" stroke-width="0.18" transform="translate(378.80 752.10) scale(1 1.09)">PRS</text>
<rect x="398.1" y="741.2" width="5" height="4" fill="#f0a0d0" stroke="#666" stroke-width="0.5"/>
<text x="0" y="0" font-size="6" text-anchor="start" fill="#555" stroke="#555" stroke-width="0.18" transform="translate(408.36 745.20) scale(1 1.09)">PSH</text>
<rect x="398.1" y="748.1" width="5" height="4" fill="#80a8d0" stroke="#666" stroke-width="0.5"/>
<text x="0" y="0" font-size="6" text-anchor="start" fill="#555" stroke="#555" stroke-width="0.18" transform="translate(408.36 752.10) scale(1 1.09)">PTP</text>
<rect x="427.6" y="741.2" width="5" height="4" fill="#c0f080" stroke="#666" stroke-width="0.5"/>
<text x="0" y="0" font-size="6" text-anchor="start" fill="#555" stroke="#555" stroke-width="0.18" transform="translate(437.92 745.20) scale(1 1.09)">YPZ</text>
<rect x="427.6" y="748.1" width="5" height="4" fill="#f09080" stroke="#666" stroke-width="0.5"/>
<text x="0" y="0" font-size="6" text-anchor="start" fill="#555" stroke="#555" stroke-width="0.18" transform="translate(437.92 752.10) scale(1 1.09)">YSG</text>
<rect x="457.2" y="741.2" width="5" height="4" fill="#f0e0c0" stroke="#666" stroke-width="0.5"/>
<text x="0" y="0" font-size="6" text-anchor="start" fill="#555" stroke="#555" stroke-width="0.18" transform="translate(467.48 745.20) scale(1 1.09)">YSN</text>
<circle cx="91.1" cy="607.1" r="4.2" fill="#707070" fill-opacity="0.5"/>
<circle cx="101.6" cy="609.8" r="4.2" fill="#707070" fill-opacity="0.5"/>
<circle cx="106.3" cy="602.8" r="4.2" fill="#707070" fill-opacity="0.5"/>
<circle cx="106.9" cy="609.2" r="4.2" fill="#707070" fill-opacity="0.5"/>
<circle cx="111.5" cy="602.8" r="4.2" fill="#707070" fill-opacity="0.5"/>
<circle cx="115.0" cy="606.9" r="4.2" fill="#707070" fill-opacity="0.5"/>
<circle cx="119.7" cy="601.0" r="4.2" fill="#707070" fill-opacity="0.5"/>
<circle cx="119.1" cy="611.5" r="4.2" fill="#707070" fill-opacity="0.5"/>
<circle cx="133.7" cy="604.5" r="4.2" fill="#707070" fill-opacity="0.5"/>
<circle cx="134.9" cy="608.0" r="4.2" fill="#707070" fill-opacity="0.5"/>
<circle cx="141.3" cy="591.7" r="4.2" fill="#707070" fill-opacity="0.5"/>
<circle cx="148.9" cy="592.3" r="4.2" fill="#707070" fill-opacity="0.5"/>
<circle cx="151.2" cy="598.1" r="4.2" fill="#707070" fill-opacity="0.5"/>
<circle cx="157.1" cy="595.8" r="4.2" fill="#707070" fill-opacity="0.5"/>
<circle cx="151.3" cy="593.1" r="4.2" fill="#707070" fill-opacity="0.5"/>
<circle cx="159.2" cy="595.1" r="4.2" fill="#707070" fill-opacity="0.5"/>
<circle cx="163.1" cy="603.0" r="4.2" fill="#707070" fill-opacity="0.5"/>
<circle cx="176.9" cy="595.1" r="4.2" fill="#707070" fill-opacity="0.5"/>
<circle cx="173.7" cy="600.4" r="4.2" fill="#707070" fill-opacity="0.5"/>
<circle cx="176.9" cy="606.3" r="4.2" fill="#707070" fill-opacity="0.5"/>
<circle cx="194.0" cy="590.5" r="4.2" fill="#707070" fill-opacity="0.5"/>
<circle cx="193.4" cy="598.4" r="4.2" fill="#707070" fill-opacity="0.5"/>
<circle cx="209.8" cy="592.5" r="4.2" fill="#707070" fill-opacity="0.5"/>
<circle cx="219.0" cy="598.4" r="4.2" fill="#707070" fill-opacity="0.5"/>
<circle cx="226.9" cy="593.8" r="4.2" fill="#707070" fill-opacity="0.5"/>
<circle cx="113.0" cy="609.0" r="4.2" fill="#707070" fill-opacity="0.5"/>
<circle cx="96.4" cy="601.6" r="4.2" fill="#b8b8b8" fill-opacity="0.5"/>
<circle cx="122.0" cy="604.5" r="4.2" fill="#b8b8b8" fill-opacity="0.5"/>
<circle cx="154.7" cy="604.5" r="4.2" fill="#b8b8b8" fill-opacity="0.5"/>
<circle cx="155.3" cy="603.7" r="4.2" fill="#b8b8b8" fill-opacity="0.5"/>
<circle cx="184.8" cy="589.9" r="4.2" fill="#b8b8b8" fill-opacity="0.5"/>
<circle cx="201.9" cy="589.2" r="4.2" fill="#b8b8b8" fill-opacity="0.5"/>
<circle cx="211.8" cy="585.3" r="4.2" fill="#b8b8b8" fill-opacity="0.5"/>
<circle cx="231.5" cy="585.3" r="4.2" fill="#b8b8b8" fill-opacity="0.5"/>
<circle cx="251.4" cy="581.4" r="4.2" fill="#b8b8b8" fill-opacity="0.5"/>
<circle cx="265.3" cy="593.8" r="4.2" fill="#b8b8b8" fill-opacity="0.5"/>
<circle cx="239.7" cy="589.4" r="4.2" fill="#b8b8b8" fill-opacity="0.5"/>
<circle cx="231.7" cy="585.0" r="4.2" fill="#b8b8b8" fill-opacity="0.5"/>
<circle cx="226.6" cy="593.8" r="4.2" fill="#b8b8b8" fill-opacity="0.5"/>
<circle cx="278.4" cy="566.0" r="4.2" fill="#b8b8b8" fill-opacity="0.5"/>
<circle cx="287.2" cy="581.4" r="4.2" fill="#b8b8b8" fill-opacity="0.5"/>
<circle cx="242.0" cy="589.9" r="4.2" fill="#b8b8b8" fill-opacity="0.5"/>
<circle cx="250.2" cy="582.7" r="4.2" fill="#b8b8b8" fill-opacity="0.5"/>
<circle cx="265.5" cy="594.0" r="4.2" fill="#b8b8b8" fill-opacity="0.5"/>
<circle cx="276.8" cy="567.4" r="4.2" fill="#b8b8b8" fill-opacity="0.5"/>
<circle cx="215.0" cy="591.2" r="4.2" fill="#008b8b" fill-opacity="0.5"/>
<circle cx="233.4" cy="600.4" r="4.2" fill="#008b8b" fill-opacity="0.5"/>
<circle cx="350.4" cy="594.5" r="4.2" fill="#008b8b" fill-opacity="0.5"/>
<circle cx="343.1" cy="599.7" r="4.2" fill="#008b8b" fill-opacity="0.5"/>
<circle cx="358.3" cy="605.0" r="4.2" fill="#008b8b" fill-opacity="0.5"/>
<circle cx="354.3" cy="608.6" r="4.2" fill="#008b8b" fill-opacity="0.5"/>
<circle cx="367.5" cy="604.0" r="4.2" fill="#008b8b" fill-opacity="0.5"/>
<circle cx="245.1" cy="574.5" r="4.2" fill="#008b8b" fill-opacity="0.5"/>
<circle cx="256.9" cy="572.0" r="4.2" fill="#008b8b" fill-opacity="0.5"/>
<circle cx="261.5" cy="568.9" r="4.2" fill="#008b8b" fill-opacity="0.5"/>
<circle cx="267.6" cy="561.2" r="4.2" fill="#008b8b" fill-opacity="0.5"/>
<circle cx="274.2" cy="560.2" r="4.2" fill="#008b8b" fill-opacity="0.5"/>
<circle cx="270.7" cy="565.3" r="4.2" fill="#008b8b" fill-opacity="0.5"/>
<circle cx="265.5" cy="575.5" r="4.2" fill="#008b8b" fill-opacity="0.5"/>
<circle cx="269.6" cy="578.6" r="4.2" fill="#008b8b" fill-opacity="0.5"/>
<circle cx="274.7" cy="578.6" r="4.2" fill="#008b8b" fill-opacity="0.5"/>
<circle cx="279.9" cy="577.6" r="4.2" fill="#008b8b" fill-opacity="0.5"/>
<circle cx="282.9" cy="574.5" r="4.2" fill="#008b8b" fill-opacity="0.5"/>
<circle cx="288.0" cy="565.3" r="4.2" fill="#008b8b" fill-opacity="0.5"/>
<circle cx="286.0" cy="569.4" r="4.2" fill="#008b8b" fill-opacity="0.5"/>
<circle cx="289.0" cy="575.5" r="4.2" fill="#008b8b" fill-opacity="0.5"/>
<circle cx="288.0" cy="582.7" r="4.2" fill="#008b8b" fill-opacity="0.5"/>
<circle cx="293.1" cy="580.7" r="4.2" fill="#008b8b" fill-opacity="0.5"/>
<circle cx="296.2" cy="573.5" r="4.2" fill="#008b8b" fill-opacity="0.5"/>
<circle cx="301.3" cy="578.6" r="4.2" fill="#008b8b" fill-opacity="0.5"/>
<circle cx="302.3" cy="570.4" r="4.2" fill="#008b8b" fill-opacity="0.5"/>
<circle cx="292.1" cy="588.8" r="4.2" fill="#008b8b" fill-opacity="0.5"/>
<circle cx="287.5" cy="592.9" r="4.2" fill="#008b8b" fill-opacity="0.5"/>
<circle cx="271.7" cy="588.8" r="4.2" fill="#008b8b" fill-opacity="0.5"/>
<circle cx="257.4" cy="590.9" r="4.2" fill="#008b8b" fill-opacity="0.5"/>
<circle cx="255.3" cy="585.8" r="4.2" fill="#008b8b" fill-opacity="0.5"/>
<circle cx="263.5" cy="584.7" r="4.2" fill="#008b8b" fill-opacity="0.5"/>
<circle cx="260.4" cy="579.6" r="4.2" fill="#008b8b" fill-opacity="0.5"/>
<circle cx="256.4" cy="576.6" r="4.2" fill="#008b8b" fill-opacity="0.5"/>
<circle cx="268.0" cy="570.0" r="4.2" fill="#008b8b" fill-opacity="0.5"/>
<circle cx="275.0" cy="572.0" r="4.2" fill="#008b8b" fill-opacity="0.5"/>
<circle cx="281.0" cy="570.0" r="4.2" fill="#008b8b" fill-opacity="0.5"/>
<circle cx="263.0" cy="566.0" r="4.2" fill="#008b8b" fill-opacity="0.5"/>
<circle cx="284.0" cy="580.0" r="4.2" fill="#008b8b" fill-opacity="0.5"/>
<circle cx="265.7" cy="572.2" r="4.2" fill="#008b8b" fill-opacity="0.45"/>
<circle cx="283.7" cy="569.9" r="4.2" fill="#008b8b" fill-opacity="0.45"/>
<circle cx="287.3" cy="571.3" r="4.2" fill="#008b8b" fill-opacity="0.45"/>
<circle cx="285.2" cy="569.7" r="4.2" fill="#008b8b" fill-opacity="0.45"/>
<circle cx="277.1" cy="579.0" r="4.2" fill="#008b8b" fill-opacity="0.45"/>
<circle cx="269.4" cy="571.2" r="4.2" fill="#008b8b" fill-opacity="0.45"/>
<circle cx="277.2" cy="571.8" r="4.2" fill="#008b8b" fill-opacity="0.45"/>
<circle cx="281.7" cy="578.7" r="4.2" fill="#008b8b" fill-opacity="0.45"/>
<circle cx="268.4" cy="577.4" r="4.2" fill="#008b8b" fill-opacity="0.45"/>
<circle cx="267.0" cy="574.4" r="4.2" fill="#008b8b" fill-opacity="0.45"/>
<circle cx="280.5" cy="572.3" r="4.2" fill="#008b8b" fill-opacity="0.45"/>
<circle cx="286.7" cy="574.7" r="4.2" fill="#008b8b" fill-opacity="0.45"/>
<circle cx="279.1" cy="578.6" r="4.2" fill="#008b8b" fill-opacity="0.45"/>
<circle cx="280.4" cy="572.7" r="4.2" fill="#008b8b" fill-opacity="0.45"/>
<circle cx="284.7" cy="571.2" r="4.2" fill="#008b8b" fill-opacity="0.45"/>
<circle cx="289.8" cy="574.9" r="4.2" fill="#008b8b" fill-opacity="0.45"/>
<circle cx="188.0" cy="607.0" r="4.2" fill="#7fff00" fill-opacity="0.4"/>
<circle cx="190.0" cy="612.0" r="4.2" fill="#7fff00" fill-opacity="0.4"/>
<circle cx="195.0" cy="617.0" r="4.2" fill="#7fff00" fill-opacity="0.4"/>
<circle cx="199.0" cy="618.5" r="4.2" fill="#7fff00" fill-opacity="0.4"/>
<circle cx="221.5" cy="605.0" r="4.2" fill="#7fff00" fill-opacity="0.4"/>
<circle cx="225.0" cy="605.5" r="4.2" fill="#7fff00" fill-opacity="0.4"/>
<circle cx="235.0" cy="610.0" r="4.2" fill="#7fff00" fill-opacity="0.4"/>
<circle cx="238.5" cy="611.5" r="4.2" fill="#7fff00" fill-opacity="0.4"/>
<circle cx="186.0" cy="609.0" r="4.2" fill="#7fff00" fill-opacity="0.4"/>
<circle cx="205.6" cy="614.1" r="4.2" fill="#ffc890" fill-opacity="0.4"/>
<circle cx="209.3" cy="608.3" r="4.2" fill="#ffc890" fill-opacity="0.4"/>
<circle cx="226.7" cy="609.0" r="4.2" fill="#ffc890" fill-opacity="0.4"/>
<circle cx="216.0" cy="613.1" r="4.2" fill="#ffc890" fill-opacity="0.4"/>
<circle cx="217.3" cy="610.8" r="4.2" fill="#ffc890" fill-opacity="0.4"/>
<circle cx="212.6" cy="615.5" r="4.2" fill="#ffc890" fill-opacity="0.4"/>
<circle cx="195.1" cy="608.8" r="4.2" fill="#ffc890" fill-opacity="0.4"/>
<circle cx="193.9" cy="610.1" r="4.2" fill="#ffc890" fill-opacity="0.4"/>
<circle cx="199.3" cy="612.3" r="4.2" fill="#ffc890" fill-opacity="0.4"/>
<circle cx="216.1" cy="608.5" r="4.2" fill="#ffc890" fill-opacity="0.4"/>
<circle cx="217.7" cy="611.2" r="4.2" fill="#ffc890" fill-opacity="0.4"/>
<circle cx="200.2" cy="608.0" r="4.2" fill="#ffc890" fill-opacity="0.4"/>
<circle cx="193.4" cy="612.9" r="4.2" fill="#ffc890" fill-opacity="0.4"/>
<circle cx="229.1" cy="614.3" r="4.2" fill="#ffc890" fill-opacity="0.4"/>
<circle cx="207.5" cy="609.1" r="4.2" fill="#ffc890" fill-opacity="0.4"/>
<circle cx="214.9" cy="610.0" r="4.2" fill="#ffc890" fill-opacity="0.4"/>
<circle cx="218.7" cy="610.9" r="4.2" fill="#ffc890" fill-opacity="0.4"/>
<circle cx="232.1" cy="613.8" r="4.2" fill="#ffc890" fill-opacity="0.4"/>
<circle cx="200.4" cy="615.5" r="4.2" fill="#ffc890" fill-opacity="0.4"/>
<circle cx="191.0" cy="611.8" r="4.2" fill="#ffc890" fill-opacity="0.4"/>
<circle cx="207.7" cy="608.9" r="4.2" fill="#ffc890" fill-opacity="0.4"/>
<circle cx="189.6" cy="612.0" r="4.2" fill="#ffc890" fill-opacity="0.4"/>
<circle cx="198.2" cy="612.6" r="4.2" fill="#ffc890" fill-opacity="0.4"/>
<circle cx="212.3" cy="612.9" r="4.2" fill="#ffc890" fill-opacity="0.4"/>
<circle cx="226.4" cy="608.2" r="4.2" fill="#ffc890" fill-opacity="0.4"/>
<circle cx="203.2" cy="609.5" r="4.2" fill="#ffc890" fill-opacity="0.4"/>
<circle cx="225.0" cy="613.7" r="4.2" fill="#ffc890" fill-opacity="0.4"/>
<circle cx="223.3" cy="611.2" r="4.2" fill="#ffc890" fill-opacity="0.4"/>
<circle cx="223.1" cy="611.0" r="4.2" fill="#ffc890" fill-opacity="0.4"/>
<circle cx="199.4" cy="607.6" r="4.2" fill="#ffc890" fill-opacity="0.4"/>
<circle cx="204.4" cy="614.0" r="4.2" fill="#ffc890" fill-opacity="0.4"/>
<circle cx="221.0" cy="615.0" r="4.2" fill="#ffc890" fill-opacity="0.4"/>
<circle cx="221.7" cy="609.2" r="4.2" fill="#ffc890" fill-opacity="0.4"/>
<circle cx="214.5" cy="610.9" r="4.2" fill="#ffc890" fill-opacity="0.4"/>
<circle cx="225.3" cy="611.7" r="4.2" fill="#ffc890" fill-opacity="0.4"/>
<circle cx="201.2" cy="612.9" r="4.2" fill="#ffc890" fill-opacity="0.4"/>
<circle cx="201.0" cy="608.9" r="4.2" fill="#ffc890" fill-opacity="0.4"/>
<circle cx="223.3" cy="609.8" r="4.2" fill="#ffc890" fill-opacity="0.4"/>
<circle cx="229.5" cy="609.8" r="4.2" fill="#ffc890" fill-opacity="0.4"/>
<circle cx="200.0" cy="615.6" r="4.2" fill="#ffc890" fill-opacity="0.4"/>
<circle cx="218.0" cy="613.4" r="4.2" fill="#ffc890" fill-opacity="0.4"/>
<circle cx="210.6" cy="614.9" r="4.2" fill="#ffc890" fill-opacity="0.4"/>
<circle cx="221.1" cy="615.1" r="4.2" fill="#ffc890" fill-opacity="0.4"/>
<circle cx="209.1" cy="613.7" r="4.2" fill="#ffc890" fill-opacity="0.4"/>
<circle cx="215.2" cy="609.6" r="4.2" fill="#ffc890" fill-opacity="0.4"/>
<circle cx="198.8" cy="612.7" r="4.2" fill="#ffc890" fill-opacity="0.4"/>
<circle cx="231.0" cy="609.5" r="4.2" fill="#ff6a50" fill-opacity="0.25"/>
<circle cx="187.6" cy="616.0" r="4.2" fill="#ff6a50" fill-opacity="0.25"/>
<circle cx="218.0" cy="612.2" r="4.2" fill="#ff6a50" fill-opacity="0.25"/>
<circle cx="230.3" cy="617.9" r="4.2" fill="#f07030" fill-opacity="0.38"/>
<circle cx="281.6" cy="617.4" r="4.2" fill="#7fff00" fill-opacity="0.5"/>
<circle cx="400.0" cy="618.3" r="4.2" fill="#ff0000" fill-opacity="0.48"/>
<circle cx="411.2" cy="626.1" r="4.2" fill="#ff0000" fill-opacity="0.48"/>
<circle cx="411.3" cy="627.8" r="4.2" fill="#ff0000" fill-opacity="0.48"/>
<circle cx="391.1" cy="625.4" r="4.2" fill="#ff0000" fill-opacity="0.48"/>
<circle cx="400.6" cy="629.1" r="4.2" fill="#ff0000" fill-opacity="0.48"/>
<circle cx="392.4" cy="619.3" r="4.2" fill="#ff0000" fill-opacity="0.48"/>
<circle cx="416.1" cy="629.0" r="4.2" fill="#ff0000" fill-opacity="0.48"/>
<circle cx="409.3" cy="629.2" r="4.2" fill="#ff0000" fill-opacity="0.48"/>
<circle cx="409.2" cy="620.6" r="4.2" fill="#ff0000" fill-opacity="0.48"/>
<circle cx="413.2" cy="619.3" r="4.2" fill="#ff0000" fill-opacity="0.48"/>
<circle cx="399.2" cy="622.8" r="4.2" fill="#ff0000" fill-opacity="0.48"/>
<circle cx="398.0" cy="627.5" r="4.2" fill="#ff0000" fill-opacity="0.48"/>
<circle cx="400.8" cy="621.1" r="4.2" fill="#ff0000" fill-opacity="0.48"/>
<circle cx="419.8" cy="624.1" r="4.2" fill="#ff0000" fill-opacity="0.48"/>
<circle cx="416.2" cy="625.9" r="4.2" fill="#ff0000" fill-opacity="0.48"/>
<circle cx="390.0" cy="622.6" r="4.2" fill="#ff0000" fill-opacity="0.48"/>
<circle cx="403.0" cy="628.4" r="4.2" fill="#ff0000" fill-opacity="0.48"/>
<circle cx="400.1" cy="627.3" r="4.2" fill="#ff0000" fill-opacity="0.48"/>
<circle cx="406.2" cy="619.5" r="4.2" fill="#ff0000" fill-opacity="0.48"/>
<circle cx="415.2" cy="618.7" r="4.2" fill="#ff0000" fill-opacity="0.48"/>
<circle cx="389.1" cy="623.9" r="4.2" fill="#ff0000" fill-opacity="0.48"/>
<circle cx="404.7" cy="628.7" r="4.2" fill="#ff0000" fill-opacity="0.48"/>
<circle cx="394.9" cy="623.9" r="4.2" fill="#ff0000" fill-opacity="0.48"/>
<circle cx="400.1" cy="629.3" r="4.2" fill="#ff0000" fill-opacity="0.48"/>
<circle cx="398.1" cy="619.4" r="4.2" fill="#ff0000" fill-opacity="0.48"/>
<circle cx="411.4" cy="624.0" r="4.2" fill="#ff0000" fill-opacity="0.48"/>
<circle cx="392.5" cy="626.2" r="4.2" fill="#ff0000" fill-opacity="0.48"/>
<circle cx="411.3" cy="628.6" r="4.2" fill="#ff0000" fill-opacity="0.48"/>
<circle cx="409.1" cy="621.7" r="4.2" fill="#ff0000" fill-opacity="0.48"/>
<circle cx="401.8" cy="622.3" r="4.2" fill="#ff0000" fill-opacity="0.48"/>
<circle cx="395.6" cy="620.2" r="4.2" fill="#ff0000" fill-opacity="0.48"/>
<circle cx="417.8" cy="624.0" r="4.2" fill="#ff0000" fill-opacity="0.48"/>
<circle cx="401.1" cy="630.1" r="4.2" fill="#ff0000" fill-opacity="0.48"/>
<circle cx="396.5" cy="623.4" r="4.2" fill="#ff0000" fill-opacity="0.48"/>
<circle cx="406.0" cy="628.1" r="4.2" fill="#ff0000" fill-opacity="0.48"/>
<circle cx="413.1" cy="626.3" r="4.2" fill="#ff0000" fill-opacity="0.48"/>
<circle cx="400.2" cy="621.2" r="4.2" fill="#ff0000" fill-opacity="0.48"/>
<circle cx="394.0" cy="629.5" r="4.2" fill="#ff0000" fill-opacity="0.48"/>
<circle cx="410.2" cy="627.9" r="4.2" fill="#ff0000" fill-opacity="0.48"/>
<circle cx="394.4" cy="623.0" r="4.2" fill="#ff0000" fill-opacity="0.48"/>
<circle cx="413.7" cy="625.3" r="4.2" fill="#ff0000" fill-opacity="0.48"/>
<circle cx="393.0" cy="623.4" r="4.2" fill="#ff0000" fill-opacity="0.48"/>
<circle cx="417.3" cy="619.8" r="4.2" fill="#ff0000" fill-opacity="0.48"/>
<circle cx="395.1" cy="620.8" r="4.2" fill="#ff0000" fill-opacity="0.48"/>
<circle cx="411.5" cy="629.5" r="4.2" fill="#ff0000" fill-opacity="0.48"/>
<circle cx="393.9" cy="618.5" r="4.2" fill="#ff0000" fill-opacity="0.48"/>
<circle cx="374.7" cy="627.3" r="4.2" fill="#ff0000" fill-opacity="0.5"/>
<circle cx="380.0" cy="621.0" r="4.2" fill="#ff0000" fill-opacity="0.5"/>
<circle cx="389.8" cy="616.1" r="4.2" fill="#ff0000" fill-opacity="0.5"/>
<circle cx="398.3" cy="612.9" r="4.2" fill="#ff0000" fill-opacity="0.5"/>
<circle cx="406.2" cy="613.5" r="4.2" fill="#ff0000" fill-opacity="0.5"/>
<circle cx="387.8" cy="624.7" r="4.2" fill="#ff0000" fill-opacity="0.5"/>
<circle cx="414.1" cy="635.2" r="4.2" fill="#ff0000" fill-opacity="0.5"/>
<circle cx="450.4" cy="573.5" r="4.2" fill="#8b0000" fill-opacity="0.45"/>
<circle cx="456.5" cy="570.2" r="4.2" fill="#8b0000" fill-opacity="0.45"/>
<circle cx="452.2" cy="570.8" r="4.2" fill="#8b0000" fill-opacity="0.45"/>
<circle cx="447.2" cy="574.7" r="4.2" fill="#8b0000" fill-opacity="0.45"/>
<circle cx="461.1" cy="575.7" r="4.2" fill="#8b0000" fill-opacity="0.45"/>
<circle cx="449.3" cy="579.8" r="4.2" fill="#8b0000" fill-opacity="0.45"/>
<circle cx="447.4" cy="571.1" r="4.2" fill="#8b0000" fill-opacity="0.45"/>
<circle cx="453.5" cy="567.7" r="4.2" fill="#8b0000" fill-opacity="0.45"/>
<circle cx="453.8" cy="582.8" r="4.2" fill="#8b0000" fill-opacity="0.45"/>
<circle cx="460.3" cy="577.0" r="4.2" fill="#8b0000" fill-opacity="0.45"/>
<circle cx="458.9" cy="576.3" r="4.2" fill="#8b0000" fill-opacity="0.45"/>
<circle cx="448.1" cy="579.1" r="4.2" fill="#8b0000" fill-opacity="0.45"/>
<circle cx="453.9" cy="581.8" r="4.2" fill="#8b0000" fill-opacity="0.45"/>
<circle cx="465.0" cy="575.6" r="4.2" fill="#8b0000" fill-opacity="0.45"/>
<circle cx="457.6" cy="582.0" r="4.2" fill="#8b0000" fill-opacity="0.45"/>
<circle cx="454.3" cy="571.6" r="4.2" fill="#8b0000" fill-opacity="0.45"/>
<circle cx="460.9" cy="584.6" r="4.2" fill="#8b0000" fill-opacity="0.45"/>
<circle cx="462.0" cy="581.0" r="4.2" fill="#8b0000" fill-opacity="0.45"/>
<circle cx="463.8" cy="580.6" r="4.2" fill="#8b0000" fill-opacity="0.45"/>
<circle cx="459.1" cy="576.1" r="4.2" fill="#8b0000" fill-opacity="0.45"/>
<circle cx="451.9" cy="579.6" r="4.2" fill="#8b0000" fill-opacity="0.45"/>
<circle cx="447.2" cy="575.4" r="4.2" fill="#8b0000" fill-opacity="0.45"/>
<circle cx="462.2" cy="581.3" r="4.2" fill="#8b0000" fill-opacity="0.45"/>
<circle cx="458.9" cy="572.0" r="4.2" fill="#8b0000" fill-opacity="0.45"/>
<circle cx="454.3" cy="576.1" r="4.2" fill="#8b0000" fill-opacity="0.45"/>
<circle cx="458.7" cy="575.2" r="4.2" fill="#8b0000" fill-opacity="0.45"/>
<circle cx="459.9" cy="585.6" r="4.2" fill="#8b0000" fill-opacity="0.45"/>
<circle cx="449.0" cy="580.1" r="4.2" fill="#8b0000" fill-opacity="0.45"/>
<circle cx="462.1" cy="574.8" r="4.2" fill="#8b0000" fill-opacity="0.45"/>
<circle cx="455.8" cy="586.5" r="4.2" fill="#8b0000" fill-opacity="0.45"/>
<circle cx="445.8" cy="577.9" r="4.2" fill="#8b0000" fill-opacity="0.45"/>
<circle cx="448.5" cy="582.6" r="4.2" fill="#8b0000" fill-opacity="0.45"/>
<circle cx="465.7" cy="577.4" r="4.2" fill="#8b0000" fill-opacity="0.45"/>
<circle cx="447.2" cy="578.5" r="4.2" fill="#8b0000" fill-opacity="0.45"/>
<circle cx="456.9" cy="581.3" r="4.2" fill="#8b0000" fill-opacity="0.45"/>
<circle cx="456.3" cy="579.8" r="4.2" fill="#8b0000" fill-opacity="0.45"/>
<circle cx="463.2" cy="577.4" r="4.2" fill="#8b0000" fill-opacity="0.45"/>
<circle cx="454.0" cy="586.0" r="4.2" fill="#8b0000" fill-opacity="0.45"/>
<circle cx="449.6" cy="580.7" r="4.2" fill="#8b0000" fill-opacity="0.45"/>
<circle cx="453.6" cy="582.3" r="4.2" fill="#8b0000" fill-opacity="0.45"/>
<circle cx="454.9" cy="568.2" r="4.2" fill="#a04040" fill-opacity="0.4"/>
<circle cx="468.9" cy="568.2" r="4.2" fill="#a04040" fill-opacity="0.4"/>
<circle cx="474.7" cy="574.0" r="4.2" fill="#a04040" fill-opacity="0.4"/>
<circle cx="449.0" cy="591.5" r="4.2" fill="#a04040" fill-opacity="0.4"/>
<circle cx="465.4" cy="598.5" r="4.2" fill="#a04040" fill-opacity="0.4"/>
<circle cx="488.6" cy="561.0" r="4.2" fill="#a04040" fill-opacity="0.4"/>
<circle cx="468.8" cy="568.0" r="4.2" fill="#a04040" fill-opacity="0.4"/>
<circle cx="474.6" cy="573.9" r="4.2" fill="#a04040" fill-opacity="0.4"/>
<circle cx="471.7" cy="575.0" r="4.2" fill="#a04040" fill-opacity="0.4"/>
<circle cx="444.0" cy="571.0" r="4.2" fill="#a04040" fill-opacity="0.4"/>
<circle cx="446.0" cy="581.0" r="4.2" fill="#a04040" fill-opacity="0.4"/>
<circle cx="442.0" cy="576.0" r="4.2" fill="#a04040" fill-opacity="0.4"/>
<circle cx="463.5" cy="585.8" r="4.2" fill="#a83030" fill-opacity="0.4"/>
<circle cx="461.6" cy="590.6" r="4.2" fill="#a83030" fill-opacity="0.4"/>
<circle cx="455.3" cy="590.9" r="4.2" fill="#a83030" fill-opacity="0.4"/>
<circle cx="465.1" cy="594.8" r="4.2" fill="#a83030" fill-opacity="0.4"/>
<circle cx="463.5" cy="588.7" r="4.2" fill="#a83030" fill-opacity="0.4"/>
<circle cx="460.4" cy="595.4" r="4.2" fill="#a83030" fill-opacity="0.4"/>
<circle cx="477.6" cy="592.4" r="4.2" fill="#a83030" fill-opacity="0.4"/>
<circle cx="460.3" cy="596.2" r="4.2" fill="#a83030" fill-opacity="0.4"/>
<circle cx="464.4" cy="588.0" r="4.2" fill="#a83030" fill-opacity="0.4"/>
<circle cx="458.1" cy="595.9" r="4.2" fill="#a83030" fill-opacity="0.4"/>
<circle cx="474.4" cy="593.9" r="4.2" fill="#a83030" fill-opacity="0.4"/>
<circle cx="466.3" cy="592.9" r="4.2" fill="#a83030" fill-opacity="0.4"/>
<circle cx="463.5" cy="593.9" r="4.2" fill="#a83030" fill-opacity="0.4"/>
<circle cx="474.6" cy="596.4" r="4.2" fill="#a83030" fill-opacity="0.4"/>
<circle cx="466.2" cy="589.1" r="4.2" fill="#a83030" fill-opacity="0.4"/>
<circle cx="468.2" cy="586.8" r="4.2" fill="#a83030" fill-opacity="0.4"/>
<circle cx="475.0" cy="590.0" r="4.2" fill="#a83030" fill-opacity="0.4"/>
<circle cx="475.4" cy="588.7" r="4.2" fill="#a83030" fill-opacity="0.4"/>
<circle cx="464.0" cy="588.5" r="4.2" fill="#a83030" fill-opacity="0.4"/>
<circle cx="465.2" cy="587.6" r="4.2" fill="#a83030" fill-opacity="0.4"/>
<circle cx="461.7" cy="588.4" r="4.2" fill="#a83030" fill-opacity="0.4"/>
<circle cx="462.2" cy="591.7" r="4.2" fill="#a83030" fill-opacity="0.4"/>
<circle cx="465.3" cy="593.9" r="4.2" fill="#a83030" fill-opacity="0.4"/>
<circle cx="470.8" cy="590.1" r="4.2" fill="#a83030" fill-opacity="0.4"/>
<circle cx="476.7" cy="596.0" r="4.2" fill="#a83030" fill-opacity="0.4"/>
<circle cx="458.4" cy="596.6" r="4.2" fill="#a83030" fill-opacity="0.4"/>
<circle cx="470.0" cy="574.6" r="4.2" fill="#00dd00" fill-opacity="0.45"/>
<circle cx="452.6" cy="588.0" r="4.2" fill="#00dd00" fill-opacity="0.45"/>
<circle cx="450.7" cy="603.0" r="4.2" fill="#b22222" fill-opacity="0.42"/>
<circle cx="440.6" cy="613.5" r="4.2" fill="#b22222" fill-opacity="0.42"/>
<circle cx="443.3" cy="601.1" r="4.2" fill="#b22222" fill-opacity="0.42"/>
<circle cx="456.7" cy="613.8" r="4.2" fill="#b22222" fill-opacity="0.42"/>
<circle cx="449.6" cy="613.6" r="4.2" fill="#b22222" fill-opacity="0.42"/>
<circle cx="451.0" cy="615.9" r="4.2" fill="#b22222" fill-opacity="0.42"/>
<circle cx="453.9" cy="614.8" r="4.2" fill="#b22222" fill-opacity="0.42"/>
<circle cx="439.7" cy="611.9" r="4.2" fill="#b22222" fill-opacity="0.42"/>
<circle cx="447.7" cy="612.8" r="4.2" fill="#b22222" fill-opacity="0.42"/>
<circle cx="445.5" cy="615.7" r="4.2" fill="#b22222" fill-opacity="0.42"/>
<circle cx="448.3" cy="603.3" r="4.2" fill="#b22222" fill-opacity="0.42"/>
<circle cx="440.6" cy="600.8" r="4.2" fill="#b22222" fill-opacity="0.42"/>
<circle cx="446.8" cy="599.2" r="4.2" fill="#b22222" fill-opacity="0.42"/>
<circle cx="446.2" cy="600.9" r="4.2" fill="#b22222" fill-opacity="0.42"/>
<circle cx="446.8" cy="608.0" r="4.2" fill="#b22222" fill-opacity="0.42"/>
<circle cx="447.9" cy="615.3" r="4.2" fill="#b22222" fill-opacity="0.42"/>
<circle cx="446.2" cy="609.3" r="4.2" fill="#b22222" fill-opacity="0.42"/>
<circle cx="451.0" cy="614.8" r="4.2" fill="#b22222" fill-opacity="0.42"/>
<circle cx="444.0" cy="606.4" r="4.2" fill="#b22222" fill-opacity="0.42"/>
<circle cx="450.3" cy="610.7" r="4.2" fill="#b22222" fill-opacity="0.42"/>
<circle cx="435.7" cy="610.2" r="4.2" fill="#b22222" fill-opacity="0.42"/>
<circle cx="451.4" cy="616.6" r="4.2" fill="#b22222" fill-opacity="0.42"/>
<circle cx="447.3" cy="607.7" r="4.2" fill="#b22222" fill-opacity="0.42"/>
<circle cx="452.2" cy="610.5" r="4.2" fill="#b22222" fill-opacity="0.42"/>
<circle cx="443.1" cy="615.2" r="4.2" fill="#b22222" fill-opacity="0.42"/>
<circle cx="443.8" cy="607.5" r="4.2" fill="#b22222" fill-opacity="0.42"/>
<circle cx="447.6" cy="613.4" r="4.2" fill="#b22222" fill-opacity="0.42"/>
<circle cx="440.1" cy="606.7" r="4.2" fill="#b22222" fill-opacity="0.42"/>
<circle cx="445.1" cy="609.1" r="4.2" fill="#b22222" fill-opacity="0.42"/>
<circle cx="454.8" cy="603.9" r="4.2" fill="#b22222" fill-opacity="0.42"/>
<circle cx="454.9" cy="606.1" r="4.2" fill="#b22222" fill-opacity="0.42"/>
<circle cx="447.1" cy="603.4" r="4.2" fill="#b22222" fill-opacity="0.42"/>
<circle cx="447.2" cy="617.5" r="4.2" fill="#b22222" fill-opacity="0.42"/>
<circle cx="450.7" cy="613.8" r="4.2" fill="#b22222" fill-opacity="0.42"/>
<circle cx="439.3" cy="603.5" r="4.2" fill="#a020b0" fill-opacity="0.35"/>
<circle cx="439.0" cy="605.7" r="4.2" fill="#a020b0" fill-opacity="0.35"/>
<circle cx="442.3" cy="607.3" r="4.2" fill="#a020b0" fill-opacity="0.35"/>
<circle cx="444.9" cy="605.4" r="4.2" fill="#a020b0" fill-opacity="0.35"/>
<circle cx="436.5" cy="603.4" r="4.2" fill="#a020b0" fill-opacity="0.35"/>
<circle cx="445.2" cy="605.9" r="4.2" fill="#a020b0" fill-opacity="0.35"/>
<circle cx="434.3" cy="612.3" r="4.2" fill="#a030c0" fill-opacity="0.38"/>
<circle cx="436.3" cy="610.9" r="4.2" fill="#a030c0" fill-opacity="0.38"/>
<circle cx="433.9" cy="611.0" r="4.2" fill="#a030c0" fill-opacity="0.38"/>
<circle cx="434.6" cy="610.8" r="4.2" fill="#a030c0" fill-opacity="0.38"/>
<circle cx="434.4" cy="607.7" r="4.2" fill="#a030c0" fill-opacity="0.38"/>
<circle cx="434.3" cy="609.7" r="4.2" fill="#a030c0" fill-opacity="0.38"/>
<circle cx="464.8" cy="591.7" r="4.2" fill="#00a000" fill-opacity="0.4"/>
<circle cx="460.0" cy="590.0" r="4.2" fill="#00a000" fill-opacity="0.4"/>
<circle cx="465.2" cy="608.4" r="4.2" fill="#ffc400" fill-opacity="0.42"/>
<circle cx="465.4" cy="619.8" r="4.2" fill="#ffc400" fill-opacity="0.42"/>
<circle cx="463.5" cy="612.2" r="4.2" fill="#ffc400" fill-opacity="0.42"/>
<circle cx="466.2" cy="618.0" r="4.2" fill="#ffc400" fill-opacity="0.42"/>
<circle cx="462.0" cy="610.6" r="4.2" fill="#ffc400" fill-opacity="0.42"/>
<circle cx="457.8" cy="612.9" r="4.2" fill="#ffc400" fill-opacity="0.42"/>
<circle cx="458.1" cy="613.0" r="4.2" fill="#ffc400" fill-opacity="0.42"/>
<circle cx="463.3" cy="620.1" r="4.2" fill="#ffc400" fill-opacity="0.42"/>
<circle cx="453.9" cy="614.9" r="4.2" fill="#ffc400" fill-opacity="0.42"/>
<circle cx="466.0" cy="615.1" r="4.2" fill="#ffc400" fill-opacity="0.42"/>
<circle cx="467.7" cy="613.3" r="4.2" fill="#ffc400" fill-opacity="0.42"/>
<circle cx="453.2" cy="612.4" r="4.2" fill="#ffc400" fill-opacity="0.42"/>
<circle cx="462.5" cy="620.1" r="4.2" fill="#ffc400" fill-opacity="0.42"/>
<circle cx="468.7" cy="613.7" r="4.2" fill="#ffc400" fill-opacity="0.42"/>
<circle cx="459.6" cy="608.4" r="4.2" fill="#ffc400" fill-opacity="0.42"/>
<circle cx="463.3" cy="610.0" r="4.2" fill="#ffc400" fill-opacity="0.42"/>
<circle cx="464.5" cy="610.4" r="4.2" fill="#ffc400" fill-opacity="0.42"/>
<circle cx="464.7" cy="609.6" r="4.2" fill="#ffc400" fill-opacity="0.42"/>
<circle cx="464.4" cy="619.0" r="4.2" fill="#ffc400" fill-opacity="0.42"/>
<circle cx="464.7" cy="608.2" r="4.2" fill="#ffc400" fill-opacity="0.42"/>
<circle cx="477.1" cy="611.5" r="4.2" fill="#ffff00" fill-opacity="0.42"/>
<circle cx="474.4" cy="614.2" r="4.2" fill="#ffff00" fill-opacity="0.42"/>
<circle cx="472.0" cy="611.8" r="4.2" fill="#ffff00" fill-opacity="0.42"/>
<circle cx="469.7" cy="613.3" r="4.2" fill="#ffff00" fill-opacity="0.42"/>
<circle cx="474.8" cy="603.7" r="4.2" fill="#ffff00" fill-opacity="0.42"/>
<circle cx="472.9" cy="609.9" r="4.2" fill="#ffff00" fill-opacity="0.42"/>
<circle cx="474.0" cy="611.1" r="4.2" fill="#ffff00" fill-opacity="0.42"/>
<circle cx="469.3" cy="612.6" r="4.2" fill="#ffff00" fill-opacity="0.42"/>
<circle cx="472.8" cy="610.7" r="4.2" fill="#ffff00" fill-opacity="0.42"/>
<circle cx="477.1" cy="608.0" r="4.2" fill="#ffff00" fill-opacity="0.42"/>
<circle cx="473.2" cy="612.4" r="4.2" fill="#ffff00" fill-opacity="0.42"/>
<circle cx="476.1" cy="606.5" r="4.2" fill="#ffff00" fill-opacity="0.42"/>
<circle cx="478.3" cy="612.9" r="4.2" fill="#ffff00" fill-opacity="0.42"/>
<circle cx="472.3" cy="610.3" r="4.2" fill="#ffff00" fill-opacity="0.42"/>
<circle cx="476.6" cy="606.7" r="4.2" fill="#ffff00" fill-opacity="0.42"/>
<circle cx="473.9" cy="613.7" r="4.2" fill="#ffff00" fill-opacity="0.42"/>
<circle cx="473.0" cy="611.2" r="4.2" fill="#ffff00" fill-opacity="0.42"/>
<circle cx="476.6" cy="613.8" r="4.2" fill="#ffff00" fill-opacity="0.42"/>
<circle cx="479.9" cy="606.4" r="4.2" fill="#ffff00" fill-opacity="0.42"/>
<circle cx="473.8" cy="610.0" r="4.2" fill="#ffff00" fill-opacity="0.42"/>
<circle cx="464.0" cy="611.0" r="4.2" fill="#808000" fill-opacity="0.4"/>
<circle cx="466.0" cy="614.0" r="4.2" fill="#808000" fill-opacity="0.4"/>
<circle cx="486.7" cy="602.9" r="4.2" fill="#008000" fill-opacity="0.45"/>
<circle cx="486.6" cy="602.7" r="4.2" fill="#008000" fill-opacity="0.45"/>
<circle cx="482.3" cy="596.7" r="4.2" fill="#008000" fill-opacity="0.45"/>
<circle cx="487.3" cy="602.1" r="4.2" fill="#008000" fill-opacity="0.45"/>
<circle cx="484.3" cy="603.1" r="4.2" fill="#008000" fill-opacity="0.45"/>
<circle cx="478.2" cy="594.9" r="4.2" fill="#008000" fill-opacity="0.45"/>
<circle cx="482.0" cy="602.0" r="4.2" fill="#008000" fill-opacity="0.45"/>
<circle cx="475.6" cy="601.5" r="4.2" fill="#008000" fill-opacity="0.45"/>
<circle cx="482.9" cy="600.8" r="4.2" fill="#008000" fill-opacity="0.45"/>
<circle cx="480.4" cy="596.1" r="4.2" fill="#008000" fill-opacity="0.45"/>
<circle cx="476.6" cy="601.5" r="4.2" fill="#008000" fill-opacity="0.45"/>
<circle cx="486.2" cy="598.6" r="4.2" fill="#008000" fill-opacity="0.45"/>
<circle cx="485.9" cy="596.3" r="4.2" fill="#008000" fill-opacity="0.45"/>
<circle cx="482.4" cy="603.0" r="4.2" fill="#008000" fill-opacity="0.45"/>
<circle cx="487.9" cy="599.2" r="4.2" fill="#008000" fill-opacity="0.45"/>
<circle cx="480.6" cy="599.9" r="4.2" fill="#008000" fill-opacity="0.45"/>
<circle cx="478.9" cy="586.3" r="4.2" fill="#0000ff" fill-opacity="0.45"/>
<circle cx="478.7" cy="592.4" r="4.2" fill="#0000ff" fill-opacity="0.45"/>
<circle cx="483.4" cy="590.8" r="4.2" fill="#0000ff" fill-opacity="0.45"/>
<circle cx="484.5" cy="590.2" r="4.2" fill="#0000ff" fill-opacity="0.45"/>
<circle cx="476.8" cy="591.6" r="4.2" fill="#0000ff" fill-opacity="0.45"/>
<circle cx="494.5" cy="585.9" r="4.2" fill="#0000ff" fill-opacity="0.45"/>
<circle cx="489.5" cy="588.1" r="4.2" fill="#0000ff" fill-opacity="0.45"/>
<circle cx="487.5" cy="584.2" r="4.2" fill="#0000ff" fill-opacity="0.45"/>
<circle cx="496.5" cy="589.8" r="4.2" fill="#0000ff" fill-opacity="0.45"/>
<circle cx="488.7" cy="587.1" r="4.2" fill="#0000ff" fill-opacity="0.45"/>
<circle cx="494.3" cy="589.1" r="4.2" fill="#0000ff" fill-opacity="0.45"/>
<circle cx="479.2" cy="586.2" r="4.2" fill="#0000ff" fill-opacity="0.45"/>
<circle cx="488.5" cy="594.4" r="4.2" fill="#0000ff" fill-opacity="0.45"/>
<circle cx="485.9" cy="595.4" r="4.2" fill="#0000ff" fill-opacity="0.45"/>
<circle cx="489.5" cy="588.8" r="4.2" fill="#0000ff" fill-opacity="0.45"/>
<circle cx="480.7" cy="590.8" r="4.2" fill="#0000ff" fill-opacity="0.45"/>
<circle cx="490.7" cy="595.5" r="4.2" fill="#0000ff" fill-opacity="0.45"/>
<circle cx="491.4" cy="588.7" r="4.2" fill="#0000ff" fill-opacity="0.45"/>
<circle cx="485.7" cy="585.9" r="4.2" fill="#0000ff" fill-opacity="0.45"/>
<circle cx="480.7" cy="588.2" r="4.2" fill="#0000ff" fill-opacity="0.45"/>
<circle cx="494.4" cy="592.5" r="4.2" fill="#0000ff" fill-opacity="0.45"/>
<circle cx="491.6" cy="587.6" r="4.2" fill="#0000ff" fill-opacity="0.45"/>
<circle cx="489.4" cy="593.1" r="4.2" fill="#0000ff" fill-opacity="0.45"/>
<circle cx="476.7" cy="587.9" r="4.2" fill="#0000ff" fill-opacity="0.45"/>
<circle cx="480.7" cy="585.5" r="4.2" fill="#0000ff" fill-opacity="0.45"/>
<circle cx="486.5" cy="586.0" r="4.2" fill="#0000ff" fill-opacity="0.45"/>
<circle cx="480.2" cy="585.7" r="4.2" fill="#0000ff" fill-opacity="0.45"/>
<circle cx="492.6" cy="586.3" r="4.2" fill="#0000ff" fill-opacity="0.45"/>
<circle cx="477.6" cy="589.4" r="4.2" fill="#0000ff" fill-opacity="0.45"/>
<circle cx="495.9" cy="591.5" r="4.2" fill="#0000ff" fill-opacity="0.45"/>
<circle cx="494.4" cy="598.3" r="4.2" fill="#1060a0" fill-opacity="0.5"/>
<circle cx="498.0" cy="596.0" r="4.2" fill="#1060a0" fill-opacity="0.5"/>
<circle cx="489.8" cy="605.4" r="4.2" fill="#3cb371" fill-opacity="0.5"/>
<circle cx="497.0" cy="577.7" r="4.2" fill="#ff00ff" fill-opacity="0.5"/>
<circle cx="505.1" cy="579.3" r="4.2" fill="#ff00ff" fill-opacity="0.5"/>
<circle cx="500.8" cy="575.6" r="4.2" fill="#ff00ff" fill-opacity="0.5"/>
<circle cx="502.7" cy="580.1" r="4.2" fill="#ff00ff" fill-opacity="0.5"/>
<circle cx="492.9" cy="578.5" r="4.2" fill="#ff00ff" fill-opacity="0.5"/>
<circle cx="490.4" cy="577.0" r="4.2" fill="#ff00ff" fill-opacity="0.5"/>
<circle cx="505.5" cy="577.7" r="4.2" fill="#ff00ff" fill-opacity="0.5"/>
<circle cx="490.7" cy="579.4" r="4.2" fill="#ff00ff" fill-opacity="0.5"/>
<circle cx="494.0" cy="583.9" r="4.2" fill="#ff00ff" fill-opacity="0.5"/>
<circle cx="501.7" cy="576.3" r="4.2" fill="#ff00ff" fill-opacity="0.5"/>
<circle cx="497.5" cy="577.1" r="4.2" fill="#ff00ff" fill-opacity="0.5"/>
<circle cx="492.7" cy="576.2" r="4.2" fill="#ff00ff" fill-opacity="0.5"/>
<circle cx="489.1" cy="577.2" r="4.2" fill="#ff00ff" fill-opacity="0.5"/>
<circle cx="503.0" cy="577.2" r="4.2" fill="#ff00ff" fill-opacity="0.5"/>
<circle cx="504.8" cy="577.7" r="4.2" fill="#ff00ff" fill-opacity="0.5"/>
<circle cx="505.3" cy="579.8" r="4.2" fill="#ff00ff" fill-opacity="0.5"/>
<circle cx="491.1" cy="578.8" r="4.2" fill="#ff00ff" fill-opacity="0.5"/>
<circle cx="507.1" cy="576.4" r="4.2" fill="#ff00ff" fill-opacity="0.5"/>
<circle cx="499.6" cy="575.5" r="4.2" fill="#ff00ff" fill-opacity="0.5"/>
<circle cx="491.0" cy="582.5" r="4.2" fill="#ff00ff" fill-opacity="0.5"/>
<circle cx="502.7" cy="576.2" r="4.2" fill="#ff00ff" fill-opacity="0.5"/>
<circle cx="500.4" cy="579.5" r="4.2" fill="#ff00ff" fill-opacity="0.5"/>
<circle cx="493.0" cy="576.3" r="4.2" fill="#ff00ff" fill-opacity="0.5"/>
<circle cx="500.5" cy="581.8" r="4.2" fill="#ff00ff" fill-opacity="0.5"/>
<circle cx="504.9" cy="580.4" r="4.2" fill="#ff00ff" fill-opacity="0.5"/>
<circle cx="503.1" cy="578.5" r="4.2" fill="#ff00ff" fill-opacity="0.5"/>
<circle cx="502.9" cy="574.6" r="4.2" fill="#ff00ff" fill-opacity="0.5"/>
<circle cx="504.8" cy="577.7" r="4.2" fill="#ff00ff" fill-opacity="0.5"/>
<circle cx="505.5" cy="583.5" r="4.2" fill="#ff00ff" fill-opacity="0.5"/>
<circle cx="497.8" cy="574.2" r="4.2" fill="#ff00ff" fill-opacity="0.5"/>
<circle cx="525.8" cy="561.9" r="4.2" fill="#ff00ff" fill-opacity="0.5"/>
<circle cx="524.1" cy="568.9" r="4.2" fill="#ff00ff" fill-opacity="0.5"/>
<circle cx="532.4" cy="564.5" r="4.2" fill="#ff00ff" fill-opacity="0.5"/>
<circle cx="535.0" cy="566.3" r="4.2" fill="#ff00ff" fill-opacity="0.5"/>
<circle cx="530.7" cy="568.0" r="4.2" fill="#ff00ff" fill-opacity="0.5"/>
<circle cx="535.9" cy="574.2" r="4.2" fill="#ff00ff" fill-opacity="0.5"/>
<circle cx="542.0" cy="561.5" r="4.2" fill="#ff00ff" fill-opacity="0.5"/>
<circle cx="543.8" cy="565.8" r="4.2" fill="#ff00ff" fill-opacity="0.5"/>
<circle cx="551.2" cy="568.0" r="4.2" fill="#ff00ff" fill-opacity="0.5"/>
<circle cx="540.0" cy="568.0" r="4.2" fill="#ff00ff" fill-opacity="0.5"/>
<circle cx="513.1" cy="575.0" r="4.2" fill="#ff00ff" fill-opacity="0.5"/>
<circle cx="512.3" cy="552.7" r="4.2" fill="#00e000" fill-opacity="0.45"/>
<circle cx="503.8" cy="556.9" r="4.2" fill="#00e000" fill-opacity="0.45"/>
<circle cx="507.9" cy="559.7" r="4.2" fill="#00e000" fill-opacity="0.45"/>
<circle cx="507.3" cy="560.4" r="4.2" fill="#00e000" fill-opacity="0.45"/>
<circle cx="497.4" cy="566.9" r="4.2" fill="#00e000" fill-opacity="0.45"/>
<circle cx="513.7" cy="575.6" r="4.2" fill="#00e000" fill-opacity="0.45"/>
<circle cx="505.0" cy="563.0" r="4.2" fill="#00e000" fill-opacity="0.45"/>
<circle cx="510.0" cy="556.0" r="4.2" fill="#00e000" fill-opacity="0.45"/>
<circle cx="492.0" cy="575.5" r="4.2" fill="#00e000" fill-opacity="0.45"/>
<circle cx="519.3" cy="549.2" r="4.2" fill="#00ffff" fill-opacity="0.5"/>
<circle cx="457.9" cy="636.4" r="4.2" fill="#20d8c8" fill-opacity="0.5"/>
<circle cx="456.6" cy="631.4" r="4.2" fill="#20d8c8" fill-opacity="0.5"/>
<circle cx="433.3" cy="645.0" r="4.2" fill="#20d8c8" fill-opacity="0.5"/>
<circle cx="439.5" cy="628.9" r="4.2" fill="#20d8c8" fill-opacity="0.5"/>
<circle cx="439.6" cy="639.3" r="4.2" fill="#20d8c8" fill-opacity="0.5"/>
<circle cx="427.2" cy="637.5" r="4.2" fill="#20d8c8" fill-opacity="0.5"/>
<circle cx="442.2" cy="637.4" r="4.2" fill="#20d8c8" fill-opacity="0.5"/>
<circle cx="431.1" cy="642.2" r="4.2" fill="#20d8c8" fill-opacity="0.5"/>
<circle cx="454.8" cy="645.8" r="4.2" fill="#20d8c8" fill-opacity="0.5"/>
<circle cx="437.9" cy="642.1" r="4.2" fill="#20d8c8" fill-opacity="0.5"/>
<circle cx="440.0" cy="643.0" r="4.2" fill="#20d8c8" fill-opacity="0.5"/>
<circle cx="459.4" cy="636.9" r="4.2" fill="#20d8c8" fill-opacity="0.5"/>
<circle cx="444.5" cy="637.7" r="4.2" fill="#20d8c8" fill-opacity="0.5"/>
<circle cx="445.3" cy="625.5" r="4.2" fill="#20d8c8" fill-opacity="0.5"/>
<circle cx="435.5" cy="644.6" r="4.2" fill="#20d8c8" fill-opacity="0.5"/>
<circle cx="450.8" cy="629.7" r="4.2" fill="#20d8c8" fill-opacity="0.5"/>
<circle cx="427.6" cy="639.4" r="4.2" fill="#20d8c8" fill-opacity="0.5"/>
<circle cx="446.6" cy="637.5" r="4.2" fill="#20d8c8" fill-opacity="0.5"/>
<circle cx="450.9" cy="627.5" r="4.2" fill="#20d8c8" fill-opacity="0.5"/>
<circle cx="456.6" cy="642.2" r="4.2" fill="#20d8c8" fill-opacity="0.5"/>
<circle cx="443.8" cy="637.0" r="4.2" fill="#20d8c8" fill-opacity="0.5"/>
<circle cx="436.5" cy="627.9" r="4.2" fill="#20d8c8" fill-opacity="0.5"/>
<circle cx="440.8" cy="628.3" r="4.2" fill="#20d8c8" fill-opacity="0.5"/>
<circle cx="447.1" cy="645.7" r="4.2" fill="#20d8c8" fill-opacity="0.5"/>
<circle cx="432.0" cy="638.7" r="4.2" fill="#20d8c8" fill-opacity="0.5"/>
<circle cx="452.4" cy="628.9" r="4.2" fill="#20d8c8" fill-opacity="0.5"/>
<circle cx="440.2" cy="635.1" r="4.2" fill="#20d8c8" fill-opacity="0.5"/>
<circle cx="455.6" cy="637.6" r="4.2" fill="#20d8c8" fill-opacity="0.5"/>
<circle cx="440.5" cy="647.6" r="4.2" fill="#20d8c8" fill-opacity="0.5"/>
<circle cx="453.4" cy="633.1" r="4.2" fill="#20d8c8" fill-opacity="0.5"/>
<circle cx="435.2" cy="633.0" r="4.2" fill="#20d8c8" fill-opacity="0.5"/>
<circle cx="441.8" cy="648.5" r="4.2" fill="#20d8c8" fill-opacity="0.5"/>
<circle cx="454.7" cy="645.3" r="4.2" fill="#20d8c8" fill-opacity="0.5"/>
<circle cx="428.8" cy="637.4" r="4.2" fill="#20d8c8" fill-opacity="0.5"/>
<circle cx="435.5" cy="635.1" r="4.2" fill="#20d8c8" fill-opacity="0.5"/>
<circle cx="448.5" cy="633.7" r="4.2" fill="#20d8c8" fill-opacity="0.5"/>
<circle cx="445.0" cy="626.7" r="4.2" fill="#20d8c8" fill-opacity="0.5"/>
<circle cx="441.7" cy="637.1" r="4.2" fill="#20d8c8" fill-opacity="0.5"/>
<circle cx="458.9" cy="640.2" r="4.2" fill="#20d8c8" fill-opacity="0.5"/>
<circle cx="454.5" cy="646.2" r="4.2" fill="#20d8c8" fill-opacity="0.5"/>
<circle cx="448.8" cy="631.4" r="4.2" fill="#20d8c8" fill-opacity="0.5"/>
<circle cx="450.1" cy="631.6" r="4.2" fill="#20d8c8" fill-opacity="0.5"/>
<circle cx="445.4" cy="647.2" r="4.2" fill="#20d8c8" fill-opacity="0.5"/>
<circle cx="448.1" cy="631.0" r="4.2" fill="#20d8c8" fill-opacity="0.5"/>
<circle cx="444.7" cy="635.4" r="4.2" fill="#20d8c8" fill-opacity="0.5"/>
<circle cx="459.3" cy="631.9" r="4.2" fill="#20d8c8" fill-opacity="0.5"/>
<circle cx="437.4" cy="640.5" r="4.2" fill="#20d8c8" fill-opacity="0.5"/>
<circle cx="431.1" cy="639.3" r="4.2" fill="#20d8c8" fill-opacity="0.5"/>
<circle cx="459.5" cy="637.3" r="4.2" fill="#20d8c8" fill-opacity="0.5"/>
<circle cx="436.1" cy="636.2" r="4.2" fill="#20d8c8" fill-opacity="0.5"/>
<circle cx="445.2" cy="628.6" r="4.2" fill="#20d8c8" fill-opacity="0.5"/>
<circle cx="437.0" cy="634.8" r="4.2" fill="#20d8c8" fill-opacity="0.5"/>
<circle cx="436.8" cy="630.8" r="4.2" fill="#20d8c8" fill-opacity="0.5"/>
<circle cx="430.0" cy="638.1" r="4.2" fill="#20d8c8" fill-opacity="0.5"/>
<circle cx="455.6" cy="639.6" r="4.2" fill="#20d8c8" fill-opacity="0.5"/>
<circle cx="446.4" cy="640.6" r="4.2" fill="#20d8c8" fill-opacity="0.5"/>
<circle cx="433.8" cy="642.0" r="4.2" fill="#20d8c8" fill-opacity="0.5"/>
<circle cx="442.7" cy="638.2" r="4.2" fill="#20d8c8" fill-opacity="0.5"/>
<circle cx="447.8" cy="636.3" r="4.2" fill="#20d8c8" fill-opacity="0.5"/>
<circle cx="437.6" cy="630.8" r="4.2" fill="#20d8c8" fill-opacity="0.5"/>
<circle cx="456.0" cy="639.2" r="4.2" fill="#4682b4" fill-opacity="0.45"/>
<circle cx="458.9" cy="640.5" r="4.2" fill="#4682b4" fill-opacity="0.45"/>
<circle cx="467.5" cy="634.3" r="4.2" fill="#4682b4" fill-opacity="0.45"/>
<circle cx="462.0" cy="638.8" r="4.2" fill="#4682b4" fill-opacity="0.45"/>
<circle cx="457.3" cy="643.9" r="4.2" fill="#4682b4" fill-opacity="0.45"/>
<circle cx="467.7" cy="637.9" r="4.2" fill="#4682b4" fill-opacity="0.45"/>
<circle cx="453.1" cy="637.0" r="4.2" fill="#4682b4" fill-opacity="0.45"/>
<circle cx="459.9" cy="643.2" r="4.2" fill="#4682b4" fill-opacity="0.45"/>
<circle cx="454.0" cy="634.1" r="4.2" fill="#4682b4" fill-opacity="0.45"/>
<circle cx="454.8" cy="636.1" r="4.2" fill="#4682b4" fill-opacity="0.45"/>
<circle cx="458.3" cy="642.2" r="4.2" fill="#4682b4" fill-opacity="0.45"/>
<circle cx="463.1" cy="645.3" r="4.2" fill="#4682b4" fill-opacity="0.45"/>
<circle cx="466.8" cy="639.3" r="4.2" fill="#4682b4" fill-opacity="0.45"/>
<circle cx="465.3" cy="643.4" r="4.2" fill="#4682b4" fill-opacity="0.45"/>
<circle cx="465.7" cy="638.6" r="4.2" fill="#4682b4" fill-opacity="0.45"/>
<circle cx="466.1" cy="642.8" r="4.2" fill="#4682b4" fill-opacity="0.45"/>
<circle cx="465.8" cy="640.5" r="4.2" fill="#4682b4" fill-opacity="0.45"/>
<circle cx="461.0" cy="647.3" r="4.2" fill="#4682b4" fill-opacity="0.45"/>
<circle cx="462.3" cy="637.5" r="4.2" fill="#4682b4" fill-opacity="0.45"/>
<circle cx="466.1" cy="645.7" r="4.2" fill="#4682b4" fill-opacity="0.45"/>
<circle cx="462.9" cy="636.8" r="4.2" fill="#4682b4" fill-opacity="0.45"/>
<circle cx="460.1" cy="638.2" r="4.2" fill="#4682b4" fill-opacity="0.45"/>
<circle cx="469.6" cy="635.5" r="4.2" fill="#ffa500" fill-opacity="0.45"/>
<circle cx="467.0" cy="640.4" r="4.2" fill="#ffa500" fill-opacity="0.45"/>
<circle cx="468.0" cy="639.8" r="4.2" fill="#ffa500" fill-opacity="0.45"/>
<circle cx="471.3" cy="632.3" r="4.2" fill="#ffa500" fill-opacity="0.45"/>
<circle cx="466.7" cy="638.0" r="4.2" fill="#ffa500" fill-opacity="0.45"/>
<circle cx="422.5" cy="628.0" r="4.2" fill="#2e8b57" fill-opacity="0.4"/>
<circle cx="422.2" cy="630.8" r="4.2" fill="#2e8b57" fill-opacity="0.4"/>
<circle cx="425.7" cy="625.9" r="4.2" fill="#2e8b57" fill-opacity="0.4"/>
<circle cx="428.4" cy="628.2" r="4.2" fill="#2e8b57" fill-opacity="0.4"/>
<circle cx="427.7" cy="633.4" r="4.2" fill="#2e8b57" fill-opacity="0.4"/>
<circle cx="424.4" cy="634.1" r="4.2" fill="#2e8b57" fill-opacity="0.4"/>
<circle cx="425.5" cy="630.0" r="4.2" fill="#2e8b57" fill-opacity="0.4"/>
<circle cx="462.0" cy="626.0" r="4.2" fill="#ffc400" fill-opacity="0.4"/>
<circle cx="468.0" cy="630.0" r="4.2" fill="#ffc400" fill-opacity="0.4"/>
<circle cx="436.3" cy="652.6" r="4.2" fill="#ff4040" fill-opacity="0.45"/>
<circle cx="430.0" cy="650.0" r="4.2" fill="#ff4040" fill-opacity="0.45"/>
<circle cx="440.0" cy="648.0" r="4.2" fill="#ffd000" fill-opacity="0.4"/>
<circle cx="444.0" cy="651.0" r="4.2" fill="#ffd000" fill-opacity="0.4"/>
<circle cx="432.0" cy="632.0" r="4.2" fill="#4682b4" fill-opacity="0.35"/>
<circle cx="437.0" cy="628.0" r="4.2" fill="#4682b4" fill-opacity="0.35"/>
<circle cx="440.0" cy="635.0" r="4.2" fill="#4682b4" fill-opacity="0.35"/>
<circle cx="469.8" cy="680.0" r="4.2" fill="#ff5fb0" fill-opacity="0.42"/>
<circle cx="469.3" cy="672.3" r="4.2" fill="#ff5fb0" fill-opacity="0.42"/>
<circle cx="472.7" cy="670.2" r="4.2" fill="#ff5fb0" fill-opacity="0.42"/>
<circle cx="466.2" cy="673.5" r="4.2" fill="#ff5fb0" fill-opacity="0.42"/>
<circle cx="466.0" cy="679.2" r="4.2" fill="#ff5fb0" fill-opacity="0.42"/>
<circle cx="472.5" cy="672.4" r="4.2" fill="#ff5fb0" fill-opacity="0.42"/>
<circle cx="461.0" cy="670.0" r="4.2" fill="#ff5fb0" fill-opacity="0.42"/>
<circle cx="467.0" cy="673.0" r="4.2" fill="#ff5fb0" fill-opacity="0.42"/>
<circle cx="470.5" cy="678.1" r="4.2" fill="#ff5fb0" fill-opacity="0.42"/>
<circle cx="478.3" cy="671.8" r="4.2" fill="#ff5fb0" fill-opacity="0.42"/>
<circle cx="467.8" cy="674.0" r="4.2" fill="#ff5fb0" fill-opacity="0.42"/>
<circle cx="469.6" cy="677.1" r="4.2" fill="#ff5fb0" fill-opacity="0.42"/>
<circle cx="462.4" cy="669.1" r="4.2" fill="#ff5fb0" fill-opacity="0.42"/>
<circle cx="469.3" cy="665.8" r="4.2" fill="#ff5fb0" fill-opacity="0.42"/>
<circle cx="476.9" cy="675.0" r="4.2" fill="#ff5fb0" fill-opacity="0.42"/>
<circle cx="476.8" cy="670.7" r="4.2" fill="#ff5fb0" fill-opacity="0.42"/>
<circle cx="462.1" cy="668.6" r="4.2" fill="#ff5fb0" fill-opacity="0.42"/>
<circle cx="469.2" cy="672.1" r="4.2" fill="#ff5fb0" fill-opacity="0.42"/>
<circle cx="462.8" cy="666.9" r="4.2" fill="#ff5fb0" fill-opacity="0.42"/>
<circle cx="471.6" cy="673.7" r="4.2" fill="#ff5fb0" fill-opacity="0.42"/>
<circle cx="456.0" cy="656.6" r="4.2" fill="#ff69b4" fill-opacity="0.5"/>
<circle cx="451.0" cy="664.6" r="4.2" fill="#ff69b4" fill-opacity="0.5"/>
<circle cx="461.9" cy="663.1" r="4.2" fill="#ff69b4" fill-opacity="0.5"/>
<circle cx="473.6" cy="662.4" r="4.2" fill="#ff69b4" fill-opacity="0.5"/>
<circle cx="464.8" cy="669.0" r="4.2" fill="#ff69b4" fill-opacity="0.5"/>
<circle cx="459.0" cy="671.9" r="4.2" fill="#ff69b4" fill-opacity="0.5"/>
<circle cx="473.6" cy="674.8" r="4.2" fill="#ff69b4" fill-opacity="0.5"/>
<circle cx="478.0" cy="679.2" r="4.2" fill="#ff69b4" fill-opacity="0.5"/>
<circle cx="488.2" cy="679.2" r="4.2" fill="#ff69b4" fill-opacity="0.5"/>
<circle cx="469.9" cy="690.9" r="4.2" fill="#ff69b4" fill-opacity="0.5"/>
<circle cx="483.8" cy="692.3" r="4.2" fill="#ff69b4" fill-opacity="0.5"/>
<circle cx="465.2" cy="659.1" r="4.2" fill="#ff69b4" fill-opacity="0.5"/>
<circle cx="478.0" cy="687.2" r="4.2" fill="#ff4500" fill-opacity="0.45"/>
<circle cx="484.0" cy="679.0" r="4.2" fill="#ff69b4" fill-opacity="0.4"/>
<circle cx="488.0" cy="684.0" r="4.2" fill="#ff69b4" fill-opacity="0.4"/>
<circle cx="487.4" cy="661.7" r="4.2" fill="#4682b4" fill-opacity="0.5"/>
<circle cx="480.1" cy="669.0" r="4.2" fill="#4682b4" fill-opacity="0.5"/>
<circle cx="484.5" cy="680.7" r="4.2" fill="#4682b4" fill-opacity="0.5"/>
<circle cx="496.6" cy="679.2" r="4.2" fill="#4682b4" fill-opacity="0.5"/>
<circle cx="499.9" cy="687.2" r="4.2" fill="#4682b4" fill-opacity="0.5"/>
<circle cx="489.6" cy="690.9" r="4.2" fill="#4682b4" fill-opacity="0.5"/>
<circle cx="495.5" cy="692.3" r="4.2" fill="#4682b4" fill-opacity="0.5"/>
<circle cx="498.4" cy="693.8" r="4.2" fill="#4682b4" fill-opacity="0.5"/>
<circle cx="506.4" cy="694.5" r="4.2" fill="#4682b4" fill-opacity="0.5"/>
<circle cx="492.0" cy="690.0" r="4.2" fill="#4682b4" fill-opacity="0.5"/>
<circle cx="494.0" cy="694.0" r="4.2" fill="#4682b4" fill-opacity="0.5"/>
<circle cx="483.8" cy="700.4" r="4.2" fill="#ff4500" fill-opacity="0.5"/>
<circle cx="483.8" cy="707.7" r="4.2" fill="#ff4500" fill-opacity="0.5"/>
<circle cx="491.1" cy="705.5" r="4.2" fill="#ff4500" fill-opacity="0.5"/>
<circle cx="498.4" cy="706.2" r="4.2" fill="#ff4500" fill-opacity="0.5"/>
<circle cx="508.6" cy="707.7" r="4.2" fill="#ff4500" fill-opacity="0.5"/>
<circle cx="495.5" cy="712.8" r="4.2" fill="#ff4500" fill-opacity="0.5"/>
<circle cx="506.4" cy="712.8" r="4.2" fill="#ff4500" fill-opacity="0.5"/>
<circle cx="501.3" cy="718.6" r="4.2" fill="#ff4500" fill-opacity="0.5"/>
<circle cx="513.0" cy="718.6" r="4.2" fill="#ff4500" fill-opacity="0.5"/>
<circle cx="504.2" cy="723.0" r="4.2" fill="#ff4500" fill-opacity="0.5"/>
<circle cx="517.4" cy="723.0" r="4.2" fill="#ff4500" fill-opacity="0.5"/>
<circle cx="521.8" cy="726.6" r="4.2" fill="#ff4500" fill-opacity="0.5"/>
<circle cx="493.1" cy="705.1" r="4.2" fill="#ff4500" fill-opacity="0.5"/>
<circle cx="502.3" cy="707.2" r="4.2" fill="#ff4500" fill-opacity="0.5"/>
<circle cx="496.1" cy="713.3" r="4.2" fill="#ff4500" fill-opacity="0.5"/>
<circle cx="498.2" cy="716.4" r="4.2" fill="#ff4500" fill-opacity="0.5"/>
<circle cx="502.3" cy="721.5" r="4.2" fill="#ff4500" fill-opacity="0.5"/>
<circle cx="506.3" cy="722.0" r="4.2" fill="#ff4500" fill-opacity="0.5"/>
<circle cx="513.5" cy="719.4" r="4.2" fill="#ff4500" fill-opacity="0.5"/>
<circle cx="518.6" cy="724.0" r="4.2" fill="#ff4500" fill-opacity="0.5"/>
<circle cx="520.7" cy="727.1" r="4.2" fill="#ff4500" fill-opacity="0.5"/>
<circle cx="504.3" cy="730.7" r="4.2" fill="#ff4500" fill-opacity="0.5"/>
<circle cx="513.5" cy="732.2" r="4.2" fill="#ff4500" fill-opacity="0.5"/>
<circle cx="507.4" cy="725.5" r="4.2" fill="#ff4500" fill-opacity="0.5"/>
<circle cx="534.5" cy="739.9" r="4.2" fill="#ff4500" fill-opacity="0.5"/>
<circle cx="531.4" cy="745.5" r="4.2" fill="#ff4500" fill-opacity="0.5"/>
<circle cx="609.9" cy="448.0" r="4.2" fill="#00ffff" fill-opacity="0.5"/>
<circle cx="611.5" cy="449.7" r="4.2" fill="#00ffff" fill-opacity="0.5"/>
<circle cx="605.9" cy="452.1" r="4.2" fill="#00ffff" fill-opacity="0.5"/>
<circle cx="595.5" cy="462.5" r="4.2" fill="#00ffff" fill-opacity="0.5"/>
<circle cx="593.1" cy="465.7" r="4.2" fill="#00ffff" fill-opacity="0.5"/>
<circle cx="597.9" cy="461.7" r="4.2" fill="#00ffff" fill-opacity="0.5"/>
<circle cx="581.0" cy="467.8" r="4.2" fill="#00ffff" fill-opacity="0.5"/>
<circle cx="578.6" cy="478.6" r="4.2" fill="#00ffff" fill-opacity="0.5"/>
<circle cx="573.0" cy="482.6" r="4.2" fill="#00ffff" fill-opacity="0.5"/>
<circle cx="568.2" cy="485.8" r="4.2" fill="#00ffff" fill-opacity="0.5"/>
<circle cx="561.0" cy="484.2" r="4.2" fill="#00ffff" fill-opacity="0.5"/>
<circle cx="580.2" cy="483.4" r="4.2" fill="#00ffff" fill-opacity="0.5"/>
<circle cx="574.6" cy="487.4" r="4.2" fill="#00ffff" fill-opacity="0.5"/>
<circle cx="582.6" cy="490.6" r="4.2" fill="#00ffff" fill-opacity="0.5"/>
<circle cx="569.8" cy="489.0" r="4.2" fill="#00ffff" fill-opacity="0.5"/>
<circle cx="552.9" cy="493.0" r="4.2" fill="#00ffff" fill-opacity="0.5"/>
<circle cx="542.5" cy="493.0" r="4.2" fill="#00ffff" fill-opacity="0.5"/>
<circle cx="547.3" cy="499.4" r="4.2" fill="#00ffff" fill-opacity="0.5"/>
<circle cx="562.6" cy="492.2" r="4.2" fill="#00ffff" fill-opacity="0.5"/>
<circle cx="568.2" cy="497.8" r="4.2" fill="#00ffff" fill-opacity="0.5"/>
<circle cx="533.7" cy="509.9" r="4.2" fill="#00ffff" fill-opacity="0.5"/>
<circle cx="540.1" cy="510.7" r="4.2" fill="#00ffff" fill-opacity="0.5"/>
<circle cx="548.1" cy="508.3" r="4.2" fill="#00ffff" fill-opacity="0.5"/>
<circle cx="552.9" cy="506.7" r="4.2" fill="#00ffff" fill-opacity="0.5"/>
<circle cx="546.5" cy="505.1" r="4.2" fill="#00ffff" fill-opacity="0.5"/>
<circle cx="536.1" cy="518.7" r="4.2" fill="#00ffff" fill-opacity="0.5"/>
<circle cx="576.0" cy="485.0" r="4.2" fill="#00ffff" fill-opacity="0.5"/>
<circle cx="571.0" cy="488.0" r="4.2" fill="#00ffff" fill-opacity="0.5"/>
<text x="0" y="0" font-size="8.4" text-anchor="start" fill="#1a1a1a" stroke="#1a1a1a" stroke-width="0.18" transform="translate(134.90 612.80) scale(1 1.09)">KDR</text>
<text x="0" y="0" font-size="8.4" text-anchor="start" fill="#1a1a1a" stroke="#1a1a1a" stroke-width="0.18" transform="translate(228.80 583.70) scale(1 1.09)">KDW</text>
<text x="0" y="0" font-size="8.4" text-anchor="start" fill="#1a1a1a" stroke="#1a1a1a" stroke-width="0.18" transform="translate(263.80 574.20) scale(1 1.09)">KBR</text>
<text x="0" y="0" font-size="8.4" text-anchor="start" fill="#1a1a1a" stroke="#1a1a1a" stroke-width="0.18" transform="translate(201.90 606.40) scale(1 1.09)">YSG</text>
<text x="0" y="0" font-size="8.4" text-anchor="start" fill="#1a1a1a" stroke="#1a1a1a" stroke-width="0.18" transform="translate(180.00 615.90) scale(1 1.09)">YSN</text>
<text x="0" y="0" font-size="8.4" text-anchor="start" fill="#1a1a1a" stroke="#1a1a1a" stroke-width="0.18" transform="translate(202.60 625.30) scale(1 1.09)">YPZ</text>
<text x="0" y="0" font-size="8.4" text-anchor="start" fill="#1a1a1a" stroke="#1a1a1a" stroke-width="0.18" transform="translate(393.10 635.60) scale(1 1.09)">BGL</text>
<text x="0" y="0" font-size="8.4" text-anchor="start" fill="#1a1a1a" stroke="#1a1a1a" stroke-width="0.18" transform="translate(393.10 644.80) scale(1 1.09)">PRS</text>
<text x="0" y="0" font-size="8.4" text-anchor="start" fill="#1a1a1a" stroke="#1a1a1a" stroke-width="0.18" transform="translate(425.70 590.40) scale(1 1.09)">LWC</text>
<text x="0" y="0" font-size="8.4" text-anchor="start" fill="#1a1a1a" stroke="#1a1a1a" stroke-width="0.18" transform="translate(451.40 590.40) scale(1 1.09)">ION</text>
<text x="0" y="0" font-size="8.4" text-anchor="start" fill="#1a1a1a" stroke="#1a1a1a" stroke-width="0.18" transform="translate(428.60 600.10) scale(1 1.09)">IPN</text>
<text x="0" y="0" font-size="8.4" text-anchor="start" fill="#1a1a1a" stroke="#1a1a1a" stroke-width="0.18" transform="translate(409.90 603.30) scale(1 1.09)">LTM</text>
<text x="0" y="0" font-size="8.4" text-anchor="start" fill="#1a1a1a" stroke="#1a1a1a" stroke-width="0.18" transform="translate(411.70 612.60) scale(1 1.09)">IVE</text>
<text x="0" y="0" font-size="8.4" text-anchor="start" fill="#1a1a1a" stroke="#1a1a1a" stroke-width="0.18" transform="translate(428.00 622.20) scale(1 1.09)">IUM</text>
<text x="0" y="0" font-size="8.4" text-anchor="start" fill="#1a1a1a" stroke="#1a1a1a" stroke-width="0.18" transform="translate(468.70 610.00) scale(1 1.09)">IPL</text>
<text x="0" y="0" font-size="8.4" text-anchor="start" fill="#1a1a1a" stroke="#1a1a1a" stroke-width="0.18" transform="translate(461.90 622.70) scale(1 1.09)">IDN</text>
<text x="0" y="0" font-size="8.4" text-anchor="start" fill="#1a1a1a" stroke="#1a1a1a" stroke-width="0.18" transform="translate(460.60 631.90) scale(1 1.09)">LBH</text>
<text x="0" y="0" font-size="8.4" text-anchor="start" fill="#1a1a1a" stroke="#1a1a1a" stroke-width="0.18" transform="translate(471.80 641.80) scale(1 1.09)">PDH</text>
<text x="0" y="0" font-size="8.4" text-anchor="start" fill="#1a1a1a" stroke="#1a1a1a" stroke-width="0.18" transform="translate(477.70 651.00) scale(1 1.09)">PTP</text>
<text x="0" y="0" font-size="8.4" text-anchor="start" fill="#1a1a1a" stroke="#1a1a1a" stroke-width="0.18" transform="translate(460.60 654.20) scale(1 1.09)">PDJ</text>
<text x="0" y="0" font-size="8.4" text-anchor="start" fill="#1a1a1a" stroke="#1a1a1a" stroke-width="0.18" transform="translate(437.60 654.20) scale(1 1.09)">PBN</text>
<text x="0" y="0" font-size="8.4" text-anchor="start" fill="#1a1a1a" stroke="#1a1a1a" stroke-width="0.18" transform="translate(415.30 654.20) scale(1 1.09)">PND</text>
<text x="0" y="0" font-size="8.4" text-anchor="start" fill="#1a1a1a" stroke="#1a1a1a" stroke-width="0.18" transform="translate(415.90 644.80) scale(1 1.09)">PAC</text>
<text x="0" y="0" font-size="8.4" text-anchor="start" fill="#1a1a1a" stroke="#1a1a1a" stroke-width="0.18" transform="translate(479.90 581.00) scale(1 1.09)">IAL</text>
<text x="0" y="0" font-size="8.4" text-anchor="start" fill="#1a1a1a" stroke="#1a1a1a" stroke-width="0.18" transform="translate(490.90 593.20) scale(1 1.09)">IBR</text>
<text x="0" y="0" font-size="8.4" text-anchor="start" fill="#1a1a1a" stroke="#1a1a1a" stroke-width="0.18" transform="translate(501.80 571.00) scale(1 1.09)">IHL</text>
<text x="0" y="0" font-size="8.4" text-anchor="start" fill="#1a1a1a" stroke="#1a1a1a" stroke-width="0.18" transform="translate(460.40 682.90) scale(1 1.09)">PSH</text>
<text x="0" y="0" font-size="8.4" text-anchor="start" fill="#1a1a1a" stroke="#1a1a1a" stroke-width="0.18" transform="translate(494.00 705.60) scale(1 1.09)">PCH</text>
<text x="0" y="0" font-size="8.4" text-anchor="start" fill="#1a1a1a" stroke="#1a1a1a" stroke-width="0.18" transform="translate(557.70 503.60) scale(1 1.09)">IKA</text>
<line x1="145.4" y1="602.0" x2="145.4" y2="605.5" stroke="#333" stroke-width="0.6"/>
<line x1="197.3" y1="611.3" x2="207.8" y2="611.3" stroke="#333" stroke-width="0.7"/>
<line x1="207.8" y1="607.6" x2="207.8" y2="611.5" stroke="#333" stroke-width="0.7"/>
<line x1="210.4" y1="613.5" x2="210.4" y2="618.0" stroke="#333" stroke-width="0.7"/>
<line x1="238.0" y1="583.0" x2="238.0" y2="586.0" stroke="#333" stroke-width="0.6"/>
<line x1="272.0" y1="573.5" x2="272.0" y2="577.0" stroke="#333" stroke-width="0.6"/>
<line x1="404.2" y1="624.0" x2="404.2" y2="628.0" stroke="#333" stroke-width="0.6"/>
<line x1="458.4" y1="581.0" x2="458.4" y2="584.5" stroke="#333" stroke-width="0.6"/>
<line x1="445.0" y1="590.4" x2="454.9" y2="602.0" stroke="#333" stroke-width="0.7"/>
<line x1="442.6" y1="600.3" x2="454.9" y2="602.0" stroke="#333" stroke-width="0.7"/>
<line x1="427.4" y1="604.4" x2="446.7" y2="606.7" stroke="#333" stroke-width="0.7"/>
<line x1="425.1" y1="609.0" x2="432.7" y2="609.0" stroke="#333" stroke-width="0.7"/>
<line x1="443.2" y1="618.4" x2="454.9" y2="609.0" stroke="#333" stroke-width="0.7"/>
<line x1="492.7" y1="576.8" x2="500.9" y2="576.8" stroke="#333" stroke-width="0.7"/>
<line x1="506.7" y1="571.5" x2="506.7" y2="576.2" stroke="#333" stroke-width="0.7"/>
<line x1="445.5" y1="631.5" x2="471.8" y2="636.8" stroke="#333" stroke-width="0.7"/>
<line x1="460.0" y1="643.4" x2="477.0" y2="644.7" stroke="#333" stroke-width="0.7"/>
<line x1="452.0" y1="635.5" x2="462.6" y2="648.6" stroke="#333" stroke-width="0.7"/>
<line x1="447.5" y1="636.0" x2="447.5" y2="648.6" stroke="#333" stroke-width="0.7"/>
<line x1="445.5" y1="636.0" x2="433.0" y2="647.3" stroke="#333" stroke-width="0.7"/>
<line x1="445.5" y1="631.5" x2="421.8" y2="635.5" stroke="#333" stroke-width="0.7"/>
<line x1="453.4" y1="617.1" x2="461.2" y2="626.3" stroke="#333" stroke-width="0.7"/>
<line x1="410.0" y1="636.0" x2="430.0" y2="634.0" stroke="#333" stroke-width="0.6"/>
<line x1="421.9" y1="627.7" x2="421.9" y2="635.8" stroke="#333" stroke-width="0.7"/>
<line x1="421.9" y1="635.0" x2="439.4" y2="631.4" stroke="#333" stroke-width="0.7"/>
<line x1="462.0" y1="611.7" x2="462.0" y2="616.0" stroke="#333" stroke-width="0.6"/>
<line x1="467.0" y1="670.0" x2="467.0" y2="674.0" stroke="#333" stroke-width="0.6"/>
<line x1="501.0" y1="704.5" x2="501.0" y2="708.0" stroke="#333" stroke-width="0.6"/>
<line x1="562.0" y1="493.5" x2="562.0" y2="496.0" stroke="#333" stroke-width="0.6"/>
<ellipse cx="199" cy="598.6" rx="117.6" ry="72.7" fill="none" stroke="#c55a11" stroke-width="1.5"/>
<text x="0" y="0" font-size="13.6" text-anchor="middle" fill="#c55a11" font-weight="bold" transform="translate(201.1 646.2) scale(1.095 1)">Cambodia and Myanmar</text>
</svg>
</div></body></html>
